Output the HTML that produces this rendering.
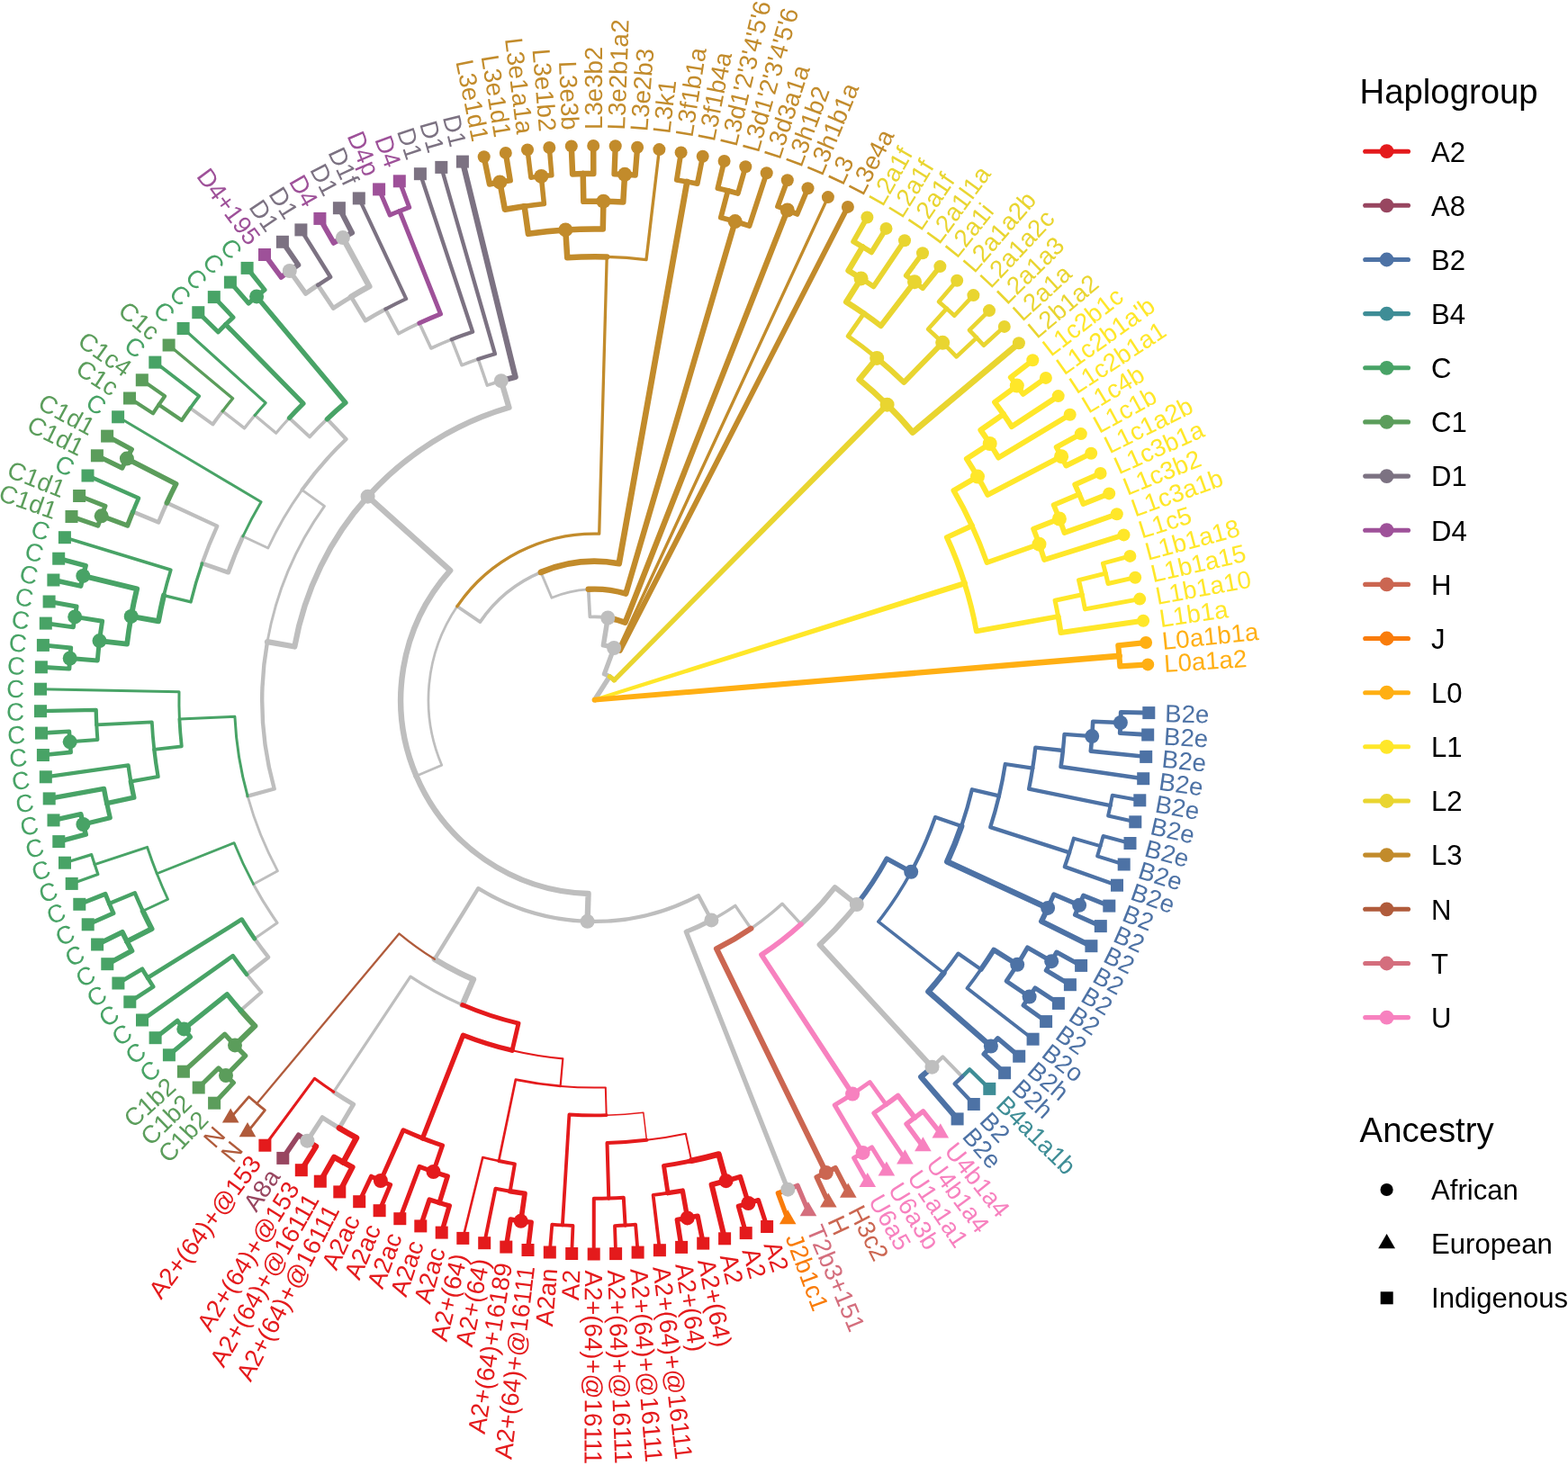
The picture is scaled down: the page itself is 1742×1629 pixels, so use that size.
<!DOCTYPE html>
<html lang="en"><head><meta charset="utf-8"><title>Haplogroup tree</title><style>html,body{margin:0;padding:0;background:#fff}body{width:1742px;height:1629px;overflow:hidden}svg{display:block}text{white-space:pre}</style></head><body>
<svg xmlns="http://www.w3.org/2000/svg" width="1742" height="1629" viewBox="0 0 1742 1629"><rect width="1742" height="1629" fill="#fff"/><g fill="none" stroke-linecap="round" stroke-linejoin="round">
<path d="M660.6 777.7L677.2 751.8" stroke="#BEBEBE" stroke-width="5.5"/>
<path d="M677.2 751.8A30.8 30.8 0 0 0 671.4 748.9L682.1 720" stroke="#BEBEBE" stroke-width="5.2"/>
<path d="M682.1 720A61.6 61.6 0 0 0 670.4 716.9L675.3 686.5" stroke="#BEBEBE" stroke-width="5.5"/>
<path d="M675.3 686.5A92.3 92.3 0 0 0 655.4 685.5L653.7 654.8" stroke="#BEBEBE" stroke-width="3.7"/>
<path d="M653.7 654.8A123.1 123.1 0 0 0 612.9 664.2L600.9 635.9" stroke="#BEBEBE" stroke-width="2.8"/>
<path d="M600.9 635.9A153.9 153.9 0 0 0 533.4 691.1L507.9 673.8" stroke="#BEBEBE" stroke-width="3.7"/>
<path d="M507.9 673.8A184.7 184.7 0 0 0 490.8 850.2L462.5 862.3" stroke="#BEBEBE" stroke-width="2.7"/>
<path d="M462.5 862.3A215.5 215.5 0 0 1 500.2 633.9L408.6 551.7" stroke="#BEBEBE" stroke-width="6.4"/>
<path d="M408.6 551.7A338.6 338.6 0 0 1 565.5 452.8L556.8 423.2" stroke="#BEBEBE" stroke-width="6.3"/>
<path d="M556.8 423.2A369.4 369.4 0 0 0 541.3 428.2L531.3 399" stroke="#BEBEBE" stroke-width="3.5"/>
<path d="M531.3 399A400.1 400.1 0 0 0 513 405.8L501.7 377.2" stroke="#BEBEBE" stroke-width="3.5"/>
<path d="M501.7 377.2A430.9 430.9 0 0 0 478.9 387L465.9 359.1" stroke="#BEBEBE" stroke-width="3.6"/>
<path d="M465.9 359.1A461.7 461.7 0 0 0 442.8 370.6L428.3 343.5" stroke="#BEBEBE" stroke-width="3.9"/>
<path d="M428.3 343.5A492.5 492.5 0 0 0 406 356.2L390.1 329.8" stroke="#BEBEBE" stroke-width="4.6"/>
<path d="M390.1 329.8A523.3 523.3 0 0 1 410.3 318.2L380.9 264.1" stroke="#BEBEBE" stroke-width="6.5"/>
<path d="M390.1 329.8A523.3 523.3 0 0 0 370.3 342.4L353.2 316.8" stroke="#BEBEBE" stroke-width="4.9"/>
<path d="M353.2 316.8A554 554 0 0 0 339.7 326.1L321.8 301" stroke="#BEBEBE" stroke-width="5.4"/>
<path d="M408.6 551.7A338.6 338.6 0 0 0 327.3 718.5L297 713.1" stroke="#BEBEBE" stroke-width="6.3"/>
<path d="M297 713.1A369.4 369.4 0 0 1 360.5 562.4L335.5 544.4" stroke="#BEBEBE" stroke-width="2.9"/>
<path d="M335.5 544.4A400.1 400.1 0 0 1 384.6 488L363.4 465.7" stroke="#BEBEBE" stroke-width="4.1"/>
<path d="M363.4 465.7A430.9 430.9 0 0 0 344 485.4L321.4 464.5" stroke="#BEBEBE" stroke-width="3.8"/>
<path d="M321.4 464.5A461.7 461.7 0 0 0 306.7 481.3L283.1 461.5" stroke="#BEBEBE" stroke-width="3.2"/>
<path d="M283.1 461.5A492.5 492.5 0 0 0 271.6 475.8L247.3 456.9" stroke="#BEBEBE" stroke-width="3.5"/>
<path d="M247.3 456.9A523.3 523.3 0 0 0 236.4 471.5L211.4 453.5" stroke="#BEBEBE" stroke-width="4"/>
<path d="M335.5 544.4A400.1 400.1 0 0 0 297.8 609L269.9 596" stroke="#BEBEBE" stroke-width="2.9"/>
<path d="M269.9 596A430.9 430.9 0 0 0 253.6 636.1L224.6 626" stroke="#BEBEBE" stroke-width="4.9"/>
<path d="M224.6 626A461.7 461.7 0 0 1 241.3 584.6L185.4 558.8" stroke="#BEBEBE" stroke-width="4.3"/>
<path d="M185.4 558.8A523.3 523.3 0 0 0 176.1 580.3L147.6 568.7" stroke="#BEBEBE" stroke-width="4.6"/>
<path d="M297 713.1A369.4 369.4 0 0 0 304.7 876.5L275.1 884.7" stroke="#BEBEBE" stroke-width="4.4"/>
<path d="M275.1 884.7A400.1 400.1 0 0 0 308.5 967.8L281.5 982.4" stroke="#BEBEBE" stroke-width="2.8"/>
<path d="M281.5 982.4A430.9 430.9 0 0 0 308 1025.4L282.8 1043.1" stroke="#BEBEBE" stroke-width="3.1"/>
<path d="M282.8 1043.1A461.7 461.7 0 0 0 298.2 1063.7L274.1 1082.8" stroke="#BEBEBE" stroke-width="4.3"/>
<path d="M274.1 1082.8A492.5 492.5 0 0 0 290.5 1102.5L267.4 1122.8" stroke="#BEBEBE" stroke-width="3.8"/>
<path d="M462.5 862.3A215.5 215.5 0 0 0 653.6 993L652.6 1023.8" stroke="#BEBEBE" stroke-width="6.3"/>
<path d="M652.6 1023.8A246.2 246.2 0 0 1 531.3 987.2L482.8 1065.8" stroke="#BEBEBE" stroke-width="4.3"/>
<path d="M482.8 1065.8A338.6 338.6 0 0 0 525.9 1088.3L513.7 1116.6" stroke="#BEBEBE" stroke-width="6.5"/>
<path d="M513.7 1116.6A369.4 369.4 0 0 1 456 1085.1L370.7 1213.3" stroke="#BEBEBE" stroke-width="3.2"/>
<path d="M370.7 1213.3A523.3 523.3 0 0 0 392.6 1227.1L376.9 1253.5" stroke="#BEBEBE" stroke-width="5"/>
<path d="M376.9 1253.5A554 554 0 0 1 358.2 1241.9L341.4 1267.7" stroke="#BEBEBE" stroke-width="5.3"/>
<path d="M652.6 1023.8A246.2 246.2 0 0 0 776 995.2L790.4 1022.4" stroke="#BEBEBE" stroke-width="4.3"/>
<path d="M790.4 1022.4A277 277 0 0 1 762.3 1035.4L875.3 1321.7" stroke="#BEBEBE" stroke-width="5.3"/>
<path d="M790.4 1022.4A277 277 0 0 0 816.9 1006.4L834.3 1031.8" stroke="#BEBEBE" stroke-width="3.4"/>
<path d="M834.3 1031.8A307.8 307.8 0 0 0 869 1004.2L889.9 1026.9" stroke="#BEBEBE" stroke-width="3.4"/>
<path d="M889.9 1026.9A338.6 338.6 0 0 0 927.6 986L951.8 1005" stroke="#BEBEBE" stroke-width="5.9"/>
<path d="M951.8 1005A369.4 369.4 0 0 1 910.6 1049.7L1035.5 1185.7" stroke="#BEBEBE" stroke-width="6"/>
<path d="M1035.5 1185.7A554 554 0 0 0 1047.5 1174.3L1069 1196.4" stroke="#BEBEBE" stroke-width="4"/>
<path d="M1244.9 803A584.8 584.8 0 0 0 1245.3 791.4L1276.3 792.1" stroke="#4D72A5" stroke-width="4.9"/>
<path d="M1244.9 803A584.8 584.8 0 0 1 1244.3 814.6L1275.2 816.5" stroke="#4D72A5" stroke-width="4.9"/>
<path d="M1213.2 818.1A554 554 0 0 0 1214.2 801.7L1244.9 803" stroke="#4D72A5" stroke-width="4.6"/>
<path d="M1213.2 818.1A554 554 0 0 1 1211.8 834.6L1273.2 840.9" stroke="#4D72A5" stroke-width="4.6"/>
<path d="M1180.9 834A523.3 523.3 0 0 0 1182.5 815.9L1213.2 818.1" stroke="#4D72A5" stroke-width="4.3"/>
<path d="M1180.9 834A523.3 523.3 0 0 1 1178.6 852L1270.2 865.2" stroke="#4D72A5" stroke-width="4.6"/>
<path d="M1147.2 853.7A492.5 492.5 0 0 0 1150.3 830.7L1180.9 834" stroke="#4D72A5" stroke-width="4.3"/>
<path d="M1233.6 895.1A584.8 584.8 0 0 0 1235.8 883.7L1266.3 889.3" stroke="#4D72A5" stroke-width="4"/>
<path d="M1233.6 895.1A584.8 584.8 0 0 1 1231.1 906.5L1261.3 913.3" stroke="#4D72A5" stroke-width="4"/>
<path d="M1147.2 853.7A492.5 492.5 0 0 1 1143.1 876.6L1233.6 895.1" stroke="#4D72A5" stroke-width="4.3"/>
<path d="M1109.9 884.4A461.7 461.7 0 0 0 1116.8 849L1147.2 853.7" stroke="#4D72A5" stroke-width="4.3"/>
<path d="M1222.4 940.2A584.8 584.8 0 0 0 1225.6 929L1255.5 937" stroke="#4D72A5" stroke-width="4"/>
<path d="M1222.4 940.2A584.8 584.8 0 0 1 1219.1 951.3L1248.7 960.5" stroke="#4D72A5" stroke-width="4"/>
<path d="M1188.1 947.4A554 554 0 0 0 1192.9 931.6L1222.4 940.2" stroke="#4D72A5" stroke-width="4"/>
<path d="M1188.1 947.4A554 554 0 0 1 1182.8 963.1L1241 983.7" stroke="#4D72A5" stroke-width="4.3"/>
<path d="M1109.9 884.4A461.7 461.7 0 0 1 1100.2 919.1L1188.1 947.4" stroke="#4D72A5" stroke-width="4.3"/>
<path d="M1068.1 918.1A430.9 430.9 0 0 0 1079.9 877.3L1109.9 884.4" stroke="#4D72A5" stroke-width="4.3"/>
<path d="M1199.1 1005.8A584.8 584.8 0 0 0 1203.6 995.1L1232.3 1006.6" stroke="#4D72A5" stroke-width="5.1"/>
<path d="M1199.1 1005.8A584.8 584.8 0 0 1 1194.5 1016.5L1222.8 1029.1" stroke="#4D72A5" stroke-width="5.1"/>
<path d="M1164.1 1008.9A554 554 0 0 0 1170.8 993.8L1199.1 1005.8" stroke="#4D72A5" stroke-width="5.1"/>
<path d="M1164.1 1008.9A554 554 0 0 1 1157 1023.8L1212.4 1051.2" stroke="#4D72A5" stroke-width="6"/>
<path d="M1068.1 918.1A430.9 430.9 0 0 1 1052.3 957.5L1164.1 1008.9" stroke="#4D72A5" stroke-width="6.6"/>
<path d="M1012.2 968.8A400.1 400.1 0 0 0 1039 908.1L1068.1 918.1" stroke="#4D72A5" stroke-width="4.2"/>
<path d="M1168.2 1068.2A584.8 584.8 0 0 0 1173.9 1058.1L1201.1 1072.9" stroke="#4D72A5" stroke-width="5.1"/>
<path d="M1168.2 1068.2A584.8 584.8 0 0 1 1162.3 1078.2L1188.9 1094.2" stroke="#4D72A5" stroke-width="5.1"/>
<path d="M1130.2 1071.8A554 554 0 0 0 1141.5 1052.9L1168.2 1068.2" stroke="#4D72A5" stroke-width="5.1"/>
<path d="M1143.6 1107.6A584.8 584.8 0 0 0 1150 1097.9L1175.9 1114.9" stroke="#4D72A5" stroke-width="4.9"/>
<path d="M1143.6 1107.6A584.8 584.8 0 0 1 1136.9 1117.1L1162.1 1135.1" stroke="#4D72A5" stroke-width="4.9"/>
<path d="M1130.2 1071.8A554 554 0 0 1 1118.1 1090.2L1143.6 1107.6" stroke="#4D72A5" stroke-width="4.9"/>
<path d="M1089.8 1077.1A523.3 523.3 0 0 0 1104.1 1055.5L1130.2 1071.8" stroke="#4D72A5" stroke-width="5.7"/>
<path d="M1089.8 1077.1A523.3 523.3 0 0 1 1074.4 1098.1L1147.6 1154.7" stroke="#4D72A5" stroke-width="3.8"/>
<path d="M1048.5 1081.1A492.5 492.5 0 0 0 1064.5 1059.5L1089.8 1077.1" stroke="#4D72A5" stroke-width="4"/>
<path d="M1100.9 1162.6A584.8 584.8 0 0 0 1108.5 1153.8L1132.2 1173.7" stroke="#4D72A5" stroke-width="5.4"/>
<path d="M1100.9 1162.6A584.8 584.8 0 0 1 1093.2 1171.3L1116.1 1192.2" stroke="#4D72A5" stroke-width="5.4"/>
<path d="M1048.5 1081.1A492.5 492.5 0 0 1 1031.4 1101.9L1100.9 1162.6" stroke="#4D72A5" stroke-width="6.4"/>
<path d="M1012.2 968.8A400.1 400.1 0 0 1 975.8 1024.2L1048.5 1081.1" stroke="#4D72A5" stroke-width="3.5"/>
<path d="M951.8 1005A369.4 369.4 0 0 0 985.2 954.1L1012.2 968.8" stroke="#4D72A5" stroke-width="5.4"/>
<path d="M1069 1196.4A584.8 584.8 0 0 0 1077.2 1188.2L1099.3 1209.9" stroke="#3E8D96" stroke-width="4.3"/>
<path d="M1069 1196.4A584.8 584.8 0 0 1 1060.6 1204.4L1081.8 1227" stroke="#4D72A5" stroke-width="4.3"/>
<path d="M1035.5 1185.7A554 554 0 0 1 1023.2 1196.7L1063.6 1243.4" stroke="#4D72A5" stroke-width="6.2"/>
<path d="M1016.3 1241.9A584.8 584.8 0 0 0 1025.5 1234.8L1044.8 1259" stroke="#F781BF" stroke-width="5.4"/>
<path d="M1016.3 1241.9A584.8 584.8 0 0 1 1007 1248.9L1025.4 1273.9" stroke="#F781BF" stroke-width="5.4"/>
<path d="M984.4 1227.3A554 554 0 0 0 997.6 1217.5L1016.3 1241.9" stroke="#F781BF" stroke-width="5.7"/>
<path d="M984.4 1227.3A554 554 0 0 1 970.8 1236.8L1005.4 1288" stroke="#F781BF" stroke-width="4.9"/>
<path d="M947.1 1215.6A523.3 523.3 0 0 0 966.4 1202.4L984.4 1227.3" stroke="#F781BF" stroke-width="4.6"/>
<path d="M958.6 1280.9A584.8 584.8 0 0 0 968.6 1274.9L984.9 1301.2" stroke="#F781BF" stroke-width="4.9"/>
<path d="M958.6 1280.9A584.8 584.8 0 0 1 948.6 1286.7L963.8 1313.7" stroke="#F781BF" stroke-width="4.9"/>
<path d="M947.1 1215.6A523.3 523.3 0 0 1 927.3 1227.9L958.6 1280.9" stroke="#F781BF" stroke-width="5.1"/>
<path d="M889.9 1026.9A338.6 338.6 0 0 1 846 1061L947.1 1215.6" stroke="#F781BF" stroke-width="5.7"/>
<path d="M917.8 1303A584.8 584.8 0 0 0 928.1 1297.8L942.3 1325.3" stroke="#CB6651" stroke-width="5.7"/>
<path d="M917.8 1303A584.8 584.8 0 0 1 907.3 1308L920.3 1336.1" stroke="#CB6651" stroke-width="5.7"/>
<path d="M834.3 1031.8A307.8 307.8 0 0 1 796 1054.2L917.8 1303" stroke="#CB6651" stroke-width="6.2"/>
<path d="M875.3 1321.7A584.8 584.8 0 0 0 886 1317.4L898 1345.9" stroke="#D46E7D" stroke-width="5.4"/>
<path d="M875.3 1321.7A584.8 584.8 0 0 1 864.4 1325.9L875.2 1354.9" stroke="#F97C0A" stroke-width="5.4"/>
<path d="M831.4 1337A584.8 584.8 0 0 0 842.5 1333.5L852.1 1363" stroke="#E41A1C" stroke-width="5.1"/>
<path d="M831.4 1337A584.8 584.8 0 0 1 820.3 1340.3L828.7 1370.1" stroke="#E41A1C" stroke-width="5.1"/>
<path d="M806.6 1312.2A554 554 0 0 0 822.4 1307.6L831.4 1337" stroke="#E41A1C" stroke-width="5.4"/>
<path d="M806.6 1312.2A554 554 0 0 1 790.6 1316.3L805.1 1376.3" stroke="#E41A1C" stroke-width="6"/>
<path d="M768.2 1289.8A523.3 523.3 0 0 0 798.5 1282.5L806.6 1312.2" stroke="#E41A1C" stroke-width="6.5"/>
<path d="M763.7 1353.4A584.8 584.8 0 0 0 775.1 1351.2L781.2 1381.6" stroke="#E41A1C" stroke-width="5.4"/>
<path d="M763.7 1353.4A584.8 584.8 0 0 1 752.3 1355.3L757.1 1385.9" stroke="#E41A1C" stroke-width="5.4"/>
<path d="M742 1325.7A554 554 0 0 0 758.3 1323.1L763.7 1353.4" stroke="#E41A1C" stroke-width="5.4"/>
<path d="M742 1325.7A554 554 0 0 1 725.6 1327.9L732.9 1389.2" stroke="#E41A1C" stroke-width="3.8"/>
<path d="M768.2 1289.8A523.3 523.3 0 0 1 737.5 1295.3L742 1325.7" stroke="#E41A1C" stroke-width="4.9"/>
<path d="M718.4 1266.8A492.5 492.5 0 0 0 761.8 1259.7L768.2 1289.8" stroke="#E41A1C" stroke-width="2"/>
<path d="M694.6 1361.5A584.8 584.8 0 0 0 706.1 1360.7L708.6 1391.6" stroke="#E41A1C" stroke-width="3.8"/>
<path d="M694.6 1361.5A584.8 584.8 0 0 1 683 1362.1L684.1 1393.1" stroke="#E41A1C" stroke-width="3.8"/>
<path d="M676.3 1331.5A554 554 0 0 0 692.8 1330.8L694.6 1361.5" stroke="#E41A1C" stroke-width="4"/>
<path d="M676.3 1331.5A554 554 0 0 1 659.8 1331.7L659.7 1393.5" stroke="#E41A1C" stroke-width="4"/>
<path d="M718.4 1266.8A492.5 492.5 0 0 1 674.5 1270L676.3 1331.5" stroke="#E41A1C" stroke-width="4"/>
<path d="M673.7 1239.2A461.7 461.7 0 0 0 714.8 1236.2L718.4 1266.8" stroke="#E41A1C" stroke-width="1.5"/>
<path d="M624.9 1361.4A584.8 584.8 0 0 0 636.5 1362L635.2 1393" stroke="#E41A1C" stroke-width="3.8"/>
<path d="M624.9 1361.4A584.8 584.8 0 0 1 613.3 1360.6L610.8 1391.5" stroke="#E41A1C" stroke-width="3.8"/>
<path d="M673.7 1239.2A461.7 461.7 0 0 1 632.4 1238.5L624.9 1361.4" stroke="#E41A1C" stroke-width="3.8"/>
<path d="M622.6 1206.9A430.9 430.9 0 0 0 672.8 1208.4L673.7 1239.2" stroke="#E41A1C" stroke-width="2"/>
<path d="M578.7 1356.8A584.8 584.8 0 0 0 590.2 1358.3L586.5 1389" stroke="#E41A1C" stroke-width="5.4"/>
<path d="M578.7 1356.8A584.8 584.8 0 0 1 567.2 1355L562.3 1385.6" stroke="#E41A1C" stroke-width="5.4"/>
<path d="M566.7 1323.7A554 554 0 0 0 583 1326.3L578.7 1356.8" stroke="#E41A1C" stroke-width="5.6"/>
<path d="M566.7 1323.7A554 554 0 0 1 550.5 1320.7L538.2 1381.2" stroke="#E41A1C" stroke-width="4"/>
<path d="M554.1 1290A523.3 523.3 0 0 0 571.9 1293.4L566.7 1323.7" stroke="#E41A1C" stroke-width="4"/>
<path d="M554.1 1290A523.3 523.3 0 0 1 536.3 1286L514.3 1375.9" stroke="#E41A1C" stroke-width="2.6"/>
<path d="M622.6 1206.9A430.9 430.9 0 0 1 572.9 1199.6L554.1 1290" stroke="#E41A1C" stroke-width="2.7"/>
<path d="M569 1167.2A400.1 400.1 0 0 0 625.3 1176.3L622.6 1206.9" stroke="#E41A1C" stroke-width="2.2"/>
<path d="M488.1 1336.5A584.8 584.8 0 0 0 499.3 1339.8L490.7 1369.6" stroke="#E41A1C" stroke-width="5.4"/>
<path d="M488.1 1336.5A584.8 584.8 0 0 1 477.1 1333L467.3 1362.4" stroke="#E41A1C" stroke-width="5.4"/>
<path d="M481.5 1302A554 554 0 0 0 497.2 1307.1L488.1 1336.5" stroke="#E41A1C" stroke-width="5.4"/>
<path d="M481.5 1302A554 554 0 0 1 466 1296.4L444.3 1354.2" stroke="#E41A1C" stroke-width="5"/>
<path d="M469.5 1264.8A523.3 523.3 0 0 0 491.5 1272.9L481.5 1302" stroke="#E41A1C" stroke-width="5"/>
<path d="M422.9 1312A584.8 584.8 0 0 0 433.6 1316.6L421.6 1345.2" stroke="#E41A1C" stroke-width="5"/>
<path d="M422.9 1312A584.8 584.8 0 0 1 412.4 1307.2L399.2 1335.2" stroke="#E41A1C" stroke-width="5"/>
<path d="M469.5 1264.8A523.3 523.3 0 0 1 448 1255.8L422.9 1312" stroke="#E41A1C" stroke-width="5"/>
<path d="M569 1167.2A400.1 400.1 0 0 1 514.5 1150.2L469.5 1264.8" stroke="#E41A1C" stroke-width="5.4"/>
<path d="M513.7 1116.6A369.4 369.4 0 0 0 576 1137.2L569 1167.2" stroke="#E41A1C" stroke-width="4.9"/>
<path d="M381.3 1291.5A584.8 584.8 0 0 0 391.5 1296.9L377.3 1324.4" stroke="#E41A1C" stroke-width="6.2"/>
<path d="M381.3 1291.5A584.8 584.8 0 0 1 371.1 1285.8L355.8 1312.7" stroke="#E41A1C" stroke-width="6.2"/>
<path d="M376.9 1253.5A554 554 0 0 0 396 1264.4L381.3 1291.5" stroke="#E41A1C" stroke-width="6.5"/>
<path d="M341.4 1267.7A584.8 584.8 0 0 0 351.2 1273.9L334.8 1300.2" stroke="#E41A1C" stroke-width="6"/>
<path d="M341.4 1267.7A584.8 584.8 0 0 1 331.7 1261.3L314.3 1286.9" stroke="#984660" stroke-width="5.7"/>
<path d="M370.7 1213.3A523.3 523.3 0 0 1 349.4 1198.3L294.4 1272.7" stroke="#E41A1C" stroke-width="3.1"/>
<path d="M285.4 1226.3A584.8 584.8 0 0 0 294.4 1233.6L275 1257.8" stroke="#B05B3B" stroke-width="2.8"/>
<path d="M285.4 1226.3A584.8 584.8 0 0 1 276.6 1218.7L256.2 1242.1" stroke="#B05B3B" stroke-width="2.8"/>
<path d="M482.8 1065.8A338.6 338.6 0 0 1 443.4 1037.4L285.4 1226.3" stroke="#B05B3B" stroke-width="2.3"/>
<path d="M251 1195.1A584.8 584.8 0 0 0 259.4 1203.1L238.1 1225.7" stroke="#5B9D5B" stroke-width="5.1"/>
<path d="M251 1195.1A584.8 584.8 0 0 1 242.8 1186.9L220.7 1208.5" stroke="#5B9D5B" stroke-width="5.1"/>
<path d="M261 1161.4A554 554 0 0 0 272.6 1173.1L251 1195.1" stroke="#5B9D5B" stroke-width="5.4"/>
<path d="M261 1161.4A554 554 0 0 1 249.7 1149.3L203.9 1190.7" stroke="#5B9D5B" stroke-width="5.4"/>
<path d="M267.4 1122.8A523.3 523.3 0 0 0 283.2 1140.1L261 1161.4" stroke="#5B9D5B" stroke-width="6.2"/>
<path d="M204.3 1143.4A584.8 584.8 0 0 0 211.6 1152.4L187.9 1172.3" stroke="#48A366" stroke-width="5.1"/>
<path d="M204.3 1143.4A584.8 584.8 0 0 1 197.1 1134.3L172.6 1153.2" stroke="#48A366" stroke-width="5.1"/>
<path d="M267.4 1122.8A523.3 523.3 0 0 1 252.3 1104.9L204.3 1143.4" stroke="#48A366" stroke-width="5.4"/>
<path d="M274.1 1082.8A492.5 492.5 0 0 1 258.7 1062.2L158 1133.5" stroke="#48A366" stroke-width="4.6"/>
<path d="M164.1 1086.6A584.8 584.8 0 0 0 170.3 1096.4L144.3 1113.3" stroke="#48A366" stroke-width="4.6"/>
<path d="M164.1 1086.6A584.8 584.8 0 0 1 158 1076.7L131.4 1092.5" stroke="#48A366" stroke-width="4.6"/>
<path d="M282.8 1043.1A461.7 461.7 0 0 1 268.6 1021.6L164.1 1086.6" stroke="#48A366" stroke-width="4.7"/>
<path d="M141.1 1046.2A584.8 584.8 0 0 0 146.5 1056.5L119.3 1071.2" stroke="#48A366" stroke-width="5.7"/>
<path d="M141.1 1046.2A584.8 584.8 0 0 1 135.9 1035.8L108.1 1049.5" stroke="#48A366" stroke-width="5.7"/>
<path d="M158.7 1012.3A554 554 0 0 0 168.5 1032.1L141.1 1046.2" stroke="#48A366" stroke-width="6"/>
<path d="M121.4 1004.1A584.8 584.8 0 0 0 126 1014.8L97.7 1027.3" stroke="#48A366" stroke-width="4.9"/>
<path d="M121.4 1004.1A584.8 584.8 0 0 1 117.1 993.4L88.3 1004.8" stroke="#48A366" stroke-width="4.9"/>
<path d="M158.7 1012.3A554 554 0 0 1 149.8 992.2L121.4 1004.1" stroke="#48A366" stroke-width="4.3"/>
<path d="M174.3 970.7A523.3 523.3 0 0 0 186.6 999.3L158.7 1012.3" stroke="#48A366" stroke-width="2.8"/>
<path d="M105.2 960.6A584.8 584.8 0 0 0 108.9 971.6L79.7 981.9" stroke="#48A366" stroke-width="3.2"/>
<path d="M105.2 960.6A584.8 584.8 0 0 1 101.7 949.6L72 958.7" stroke="#48A366" stroke-width="3.2"/>
<path d="M174.3 970.7A523.3 523.3 0 0 1 163.6 941.4L105.2 960.6" stroke="#48A366" stroke-width="3"/>
<path d="M281.5 982.4A430.9 430.9 0 0 1 260.1 936.6L174.3 970.7" stroke="#48A366" stroke-width="2.8"/>
<path d="M92.4 916A584.8 584.8 0 0 0 95.3 927.2L65.3 935.1" stroke="#48A366" stroke-width="5.4"/>
<path d="M92.4 916A584.8 584.8 0 0 1 89.8 904.7L59.5 911.4" stroke="#48A366" stroke-width="5.4"/>
<path d="M118.7 892.6A554 554 0 0 0 122.3 908.7L92.4 916" stroke="#48A366" stroke-width="5.1"/>
<path d="M118.7 892.6A554 554 0 0 1 115.5 876.4L54.7 887.4" stroke="#48A366" stroke-width="5.4"/>
<path d="M145.3 868.4A523.3 523.3 0 0 0 148.8 886.2L118.7 892.6" stroke="#48A366" stroke-width="5.4"/>
<path d="M145.3 868.4A523.3 523.3 0 0 1 142.5 850.4L50.8 863.3" stroke="#48A366" stroke-width="4.3"/>
<path d="M171.3 832.8A492.5 492.5 0 0 0 175.6 863L145.3 868.4" stroke="#48A366" stroke-width="4.3"/>
<path d="M77.7 824.3A584.8 584.8 0 0 0 78.7 835.9L47.9 839" stroke="#48A366" stroke-width="4.6"/>
<path d="M77.7 824.3A584.8 584.8 0 0 1 76.9 812.7L46 814.6" stroke="#48A366" stroke-width="4.6"/>
<path d="M107.3 805.4A554 554 0 0 0 108.4 821.9L77.7 824.3" stroke="#48A366" stroke-width="4"/>
<path d="M107.3 805.4A554 554 0 0 1 106.7 788.9L45 790.2" stroke="#48A366" stroke-width="4.3"/>
<path d="M171.3 832.8A492.5 492.5 0 0 1 168.8 802.3L107.3 805.4" stroke="#48A366" stroke-width="3.8"/>
<path d="M199.4 799.1A461.7 461.7 0 0 0 201.8 829.3L171.3 832.8" stroke="#48A366" stroke-width="3.8"/>
<path d="M199.4 799.1A461.7 461.7 0 0 1 199 768.7L45 765.7" stroke="#48A366" stroke-width="3"/>
<path d="M275.1 884.7A400.1 400.1 0 0 1 260.9 796.2L199.4 799.1" stroke="#48A366" stroke-width="3"/>
<path d="M77.7 731.5A584.8 584.8 0 0 0 76.9 743.1L45.9 741.3" stroke="#48A366" stroke-width="4.9"/>
<path d="M77.7 731.5A584.8 584.8 0 0 1 78.7 720L47.9 716.9" stroke="#48A366" stroke-width="4.9"/>
<path d="M110.5 712.1A554 554 0 0 0 108.3 733.9L77.7 731.5" stroke="#48A366" stroke-width="5"/>
<path d="M83.2 685.4A584.8 584.8 0 0 0 81.4 696.9L50.8 692.6" stroke="#48A366" stroke-width="4.9"/>
<path d="M83.2 685.4A584.8 584.8 0 0 1 85.1 674L54.6 668.5" stroke="#48A366" stroke-width="4.9"/>
<path d="M110.5 712.1A554 554 0 0 1 113.6 690.3L83.2 685.4" stroke="#48A366" stroke-width="5"/>
<path d="M145.7 684.9A523.3 523.3 0 0 0 141.1 715.7L110.5 712.1" stroke="#48A366" stroke-width="5.7"/>
<path d="M92.3 639.9A584.8 584.8 0 0 0 89.7 651.2L59.4 644.5" stroke="#48A366" stroke-width="5.4"/>
<path d="M92.3 639.9A584.8 584.8 0 0 1 95.2 628.6L65.2 620.7" stroke="#48A366" stroke-width="5.4"/>
<path d="M145.7 684.9A523.3 523.3 0 0 1 152.1 654.4L92.3 639.9" stroke="#48A366" stroke-width="6"/>
<path d="M182 661.6A492.5 492.5 0 0 0 176 690.3L145.7 684.9" stroke="#48A366" stroke-width="6"/>
<path d="M182 661.6A492.5 492.5 0 0 1 189.8 633.3L71.9 597.2" stroke="#48A366" stroke-width="3.8"/>
<path d="M224.6 626A461.7 461.7 0 0 0 212 668.9L182 661.6" stroke="#48A366" stroke-width="3.5"/>
<path d="M112.7 573.3A584.8 584.8 0 0 0 108.8 584.2L79.5 574" stroke="#5B9D5B" stroke-width="5.1"/>
<path d="M112.7 573.3A584.8 584.8 0 0 1 116.9 562.4L88.1 551" stroke="#5B9D5B" stroke-width="5.1"/>
<path d="M147.6 568.7A554 554 0 0 0 141.6 584L112.7 573.3" stroke="#5B9D5B" stroke-width="5.4"/>
<path d="M147.6 568.7A554 554 0 0 1 154 553.5L97.5 528.5" stroke="#48A366" stroke-width="4.6"/>
<path d="M140.9 509.6A584.8 584.8 0 0 0 135.7 520L107.9 506.3" stroke="#5B9D5B" stroke-width="5.3"/>
<path d="M140.9 509.6A584.8 584.8 0 0 1 146.3 499.3L119.1 484.6" stroke="#5B9D5B" stroke-width="5.3"/>
<path d="M185.4 558.8A523.3 523.3 0 0 1 195.6 537.8L140.9 509.6" stroke="#5B9D5B" stroke-width="5.7"/>
<path d="M269.9 596A430.9 430.9 0 0 1 290.1 557.7L131.1 463.3" stroke="#48A366" stroke-width="2.9"/>
<path d="M176.5 449.7A584.8 584.8 0 0 0 170 459.4L144 442.5" stroke="#5B9D5B" stroke-width="4.1"/>
<path d="M176.5 449.7A584.8 584.8 0 0 1 183.1 440.2L157.8 422.3" stroke="#5B9D5B" stroke-width="4.1"/>
<path d="M211.4 453.5A554 554 0 0 0 201.9 467L176.5 449.7" stroke="#5B9D5B" stroke-width="4.1"/>
<path d="M211.4 453.5A554 554 0 0 1 221.3 440.2L172.3 402.6" stroke="#48A366" stroke-width="3.8"/>
<path d="M247.3 456.9A523.3 523.3 0 0 1 258.6 442.7L187.6 383.5" stroke="#5B9D5B" stroke-width="3.3"/>
<path d="M283.1 461.5A492.5 492.5 0 0 1 295.1 447.7L203.6 365" stroke="#48A366" stroke-width="3.1"/>
<path d="M250.7 360.6A584.8 584.8 0 0 0 242.5 368.9L220.3 347.2" stroke="#48A366" stroke-width="4.9"/>
<path d="M250.7 360.6A584.8 584.8 0 0 1 259 352.6L237.8 330.1" stroke="#48A366" stroke-width="4.9"/>
<path d="M321.4 464.5A461.7 461.7 0 0 1 337 448.4L250.7 360.6" stroke="#48A366" stroke-width="5.1"/>
<path d="M285.1 329.4A584.8 584.8 0 0 0 276.2 337L255.9 313.6" stroke="#48A366" stroke-width="5.1"/>
<path d="M285.1 329.4A584.8 584.8 0 0 1 294 322.1L274.6 297.9" stroke="#48A366" stroke-width="5.1"/>
<path d="M363.4 465.7A430.9 430.9 0 0 1 383.9 447.4L285.1 329.4" stroke="#48A366" stroke-width="5.4"/>
<path d="M321.8 301A584.8 584.8 0 0 0 312.4 307.9L294 283" stroke="#9E5199" stroke-width="5.8"/>
<path d="M321.8 301A584.8 584.8 0 0 1 331.4 294.4L313.9 268.8" stroke="#7C7282" stroke-width="5.8"/>
<path d="M353.2 316.8A554 554 0 0 1 367.1 307.8L334.4 255.4" stroke="#7C7282" stroke-width="4.5"/>
<path d="M380.9 264.1A584.8 584.8 0 0 0 370.7 269.8L355.4 242.9" stroke="#9E5199" stroke-width="5.9"/>
<path d="M380.9 264.1A584.8 584.8 0 0 1 391.1 258.7L376.9 231.2" stroke="#7C7282" stroke-width="5.9"/>
<path d="M428.3 343.5A492.5 492.5 0 0 1 451.2 332L398.8 220.4" stroke="#7C7282" stroke-width="4.1"/>
<path d="M443.9 234.5A584.8 584.8 0 0 0 433.2 238.9L421.1 210.4" stroke="#9E5199" stroke-width="5"/>
<path d="M443.9 234.5A584.8 584.8 0 0 1 454.7 230.3L443.8 201.3" stroke="#9E5199" stroke-width="5"/>
<path d="M465.9 359.1A461.7 461.7 0 0 1 489.5 348.9L443.9 234.5" stroke="#9E5199" stroke-width="5"/>
<path d="M501.7 377.2A430.9 430.9 0 0 1 525.1 368.7L466.9 193.2" stroke="#7C7282" stroke-width="4.3"/>
<path d="M531.3 399A400.1 400.1 0 0 1 549.9 393.2L490.3 185.9" stroke="#7C7282" stroke-width="4.3"/>
<path d="M556.8 423.2A369.4 369.4 0 0 1 572.6 419L513.9 179.6" stroke="#7C7282" stroke-width="6.4"/>
<path d="M555.3 202.4A584.8 584.8 0 0 0 543.9 204.6L537.7 174.3" stroke="#C28B2B" stroke-width="6.3"/>
<path d="M555.3 202.4A584.8 584.8 0 0 1 566.8 200.5L561.8 169.9" stroke="#C28B2B" stroke-width="6.3"/>
<path d="M582.6 229.2A554 554 0 0 0 560.9 232.7L555.3 202.4" stroke="#C28B2B" stroke-width="6.5"/>
<path d="M601.3 195.9A584.8 584.8 0 0 0 589.8 197.2L586 166.4" stroke="#C28B2B" stroke-width="5.4"/>
<path d="M601.3 195.9A584.8 584.8 0 0 1 612.9 194.8L610.3 164" stroke="#C28B2B" stroke-width="5.4"/>
<path d="M582.6 229.2A554 554 0 0 1 604.4 226.5L601.3 195.9" stroke="#C28B2B" stroke-width="5.5"/>
<path d="M628.3 255.4A523.3 523.3 0 0 0 586.9 259.7L582.6 229.2" stroke="#C28B2B" stroke-width="6.5"/>
<path d="M647.7 193A584.8 584.8 0 0 0 636.1 193.4L634.8 162.4" stroke="#C28B2B" stroke-width="6.5"/>
<path d="M647.7 193A584.8 584.8 0 0 1 659.3 192.9L659.2 161.9" stroke="#C28B2B" stroke-width="6.5"/>
<path d="M670.4 223.7A554 554 0 0 0 648.3 223.8L647.7 193" stroke="#C28B2B" stroke-width="6.5"/>
<path d="M694.1 193.8A584.8 584.8 0 0 0 682.5 193.3L683.7 162.3" stroke="#C28B2B" stroke-width="6.3"/>
<path d="M694.1 193.8A584.8 584.8 0 0 1 705.7 194.6L708.1 163.7" stroke="#C28B2B" stroke-width="6.3"/>
<path d="M670.4 223.7A554 554 0 0 1 692.3 224.6L694.1 193.8" stroke="#C28B2B" stroke-width="6.5"/>
<path d="M628.3 255.4A523.3 523.3 0 0 1 669.8 254.5L670.4 223.7" stroke="#C28B2B" stroke-width="6.5"/>
<path d="M674.2 285.4A492.5 492.5 0 0 0 630.2 286.2L628.3 255.4" stroke="#C28B2B" stroke-width="6.5"/>
<path d="M674.2 285.4A492.5 492.5 0 0 1 718 288.6L732.4 166.1" stroke="#C28B2B" stroke-width="3.4"/>
<path d="M507.9 673.8A184.7 184.7 0 0 1 665.7 593.1L674.2 285.4" stroke="#C28B2B" stroke-width="3.3"/>
<path d="M763.3 202A584.8 584.8 0 0 0 751.8 200L756.6 169.4" stroke="#C28B2B" stroke-width="5.8"/>
<path d="M763.3 202A584.8 584.8 0 0 1 774.7 204.1L780.7 173.7" stroke="#C28B2B" stroke-width="5.8"/>
<path d="M600.9 635.9A153.9 153.9 0 0 1 687.7 626.2L763.3 202" stroke="#C28B2B" stroke-width="6.7"/>
<path d="M808.6 211.9A584.8 584.8 0 0 0 797.4 209.1L804.6 179" stroke="#C28B2B" stroke-width="5.8"/>
<path d="M808.6 211.9A584.8 584.8 0 0 1 819.8 215L828.3 185.2" stroke="#C28B2B" stroke-width="5.8"/>
<path d="M816.7 246.1A554 554 0 0 0 800.8 241.7L808.6 211.9" stroke="#C28B2B" stroke-width="5.8"/>
<path d="M816.7 246.1A554 554 0 0 1 832.5 251L851.7 192.3" stroke="#C28B2B" stroke-width="5.8"/>
<path d="M653.7 654.8A123.1 123.1 0 0 1 695.3 659.6L816.7 246.1" stroke="#C28B2B" stroke-width="6.4"/>
<path d="M874.8 233.5A584.8 584.8 0 0 0 864 229.4L874.8 200.3" stroke="#C28B2B" stroke-width="5.8"/>
<path d="M874.8 233.5A584.8 584.8 0 0 1 885.6 237.9L897.5 209.3" stroke="#C28B2B" stroke-width="5.8"/>
<path d="M675.3 686.5A92.3 92.3 0 0 1 694.5 691.8L874.8 233.5" stroke="#C28B2B" stroke-width="6.4"/>
<path d="M682.1 720A61.6 61.6 0 0 1 686.6 721.9L919.9 219.1" stroke="#C28B2B" stroke-width="3.4"/>
<path d="M682.1 720A61.6 61.6 0 0 1 688.8 722.9L941.9 229.9" stroke="#C28B2B" stroke-width="5.9"/>
<path d="M958.2 274.3A584.8 584.8 0 0 0 948.2 268.4L963.4 241.5" stroke="#E9D530" stroke-width="5.9"/>
<path d="M958.2 274.3A584.8 584.8 0 0 1 968.2 280.3L984.5 253.9" stroke="#E9D530" stroke-width="5.9"/>
<path d="M956.6 309.4A554 554 0 0 0 942.6 300.7L958.2 274.3" stroke="#E9D530" stroke-width="6.5"/>
<path d="M956.6 309.4A554 554 0 0 1 970.5 318.4L1005 267.2" stroke="#E9D530" stroke-width="5.8"/>
<path d="M959.7 348.3A523.3 523.3 0 0 0 940.2 335.4L956.6 309.4" stroke="#E9D530" stroke-width="6.5"/>
<path d="M1016 313.2A584.8 584.8 0 0 0 1006.7 306.2L1025 281.3" stroke="#E9D530" stroke-width="5.7"/>
<path d="M1016 313.2A584.8 584.8 0 0 1 1025.1 320.3L1044.4 296.1" stroke="#E9D530" stroke-width="5.7"/>
<path d="M959.7 348.3A523.3 523.3 0 0 1 978.6 362.1L1016 313.2" stroke="#E9D530" stroke-width="6.2"/>
<path d="M974.2 397.9A492.5 492.5 0 0 0 942.1 373.6L959.7 348.3" stroke="#E9D530" stroke-width="4.9"/>
<path d="M1051.7 342.9A584.8 584.8 0 0 0 1043 335.2L1063.2 311.7" stroke="#E9D530" stroke-width="4.6"/>
<path d="M1051.7 342.9A584.8 584.8 0 0 1 1060.3 350.7L1081.4 328.1" stroke="#E9D530" stroke-width="4.6"/>
<path d="M1047.2 380.8A554 554 0 0 0 1031.1 365.7L1051.7 342.9" stroke="#E9D530" stroke-width="4.6"/>
<path d="M1085 375.3A584.8 584.8 0 0 0 1076.9 366.9L1099 345.1" stroke="#E9D530" stroke-width="4.6"/>
<path d="M1085 375.3A584.8 584.8 0 0 1 1092.9 383.8L1115.8 362.9" stroke="#E9D530" stroke-width="4.6"/>
<path d="M1047.2 380.8A554 554 0 0 1 1062.6 396.4L1085 375.3" stroke="#E9D530" stroke-width="4.6"/>
<path d="M974.2 397.9A492.5 492.5 0 0 1 1004.2 424.9L1047.2 380.8" stroke="#E9D530" stroke-width="6"/>
<path d="M985.6 449.7A461.7 461.7 0 0 0 954.6 421.7L974.2 397.9" stroke="#E9D530" stroke-width="6.5"/>
<path d="M985.6 449.7A461.7 461.7 0 0 1 1014 480.5L1131.9 381.3" stroke="#E9D530" stroke-width="6.8"/>
<path d="M677.2 751.8A30.8 30.8 0 0 1 682.3 755.8" stroke="#E9D530" stroke-width="5.2"/>
<path d="M684.16 757.67L987.97 452.06L983.28 447.42L680.47 754.01Z" fill="#E9D530" stroke="none"/>
<circle cx="682.3" cy="755.8" r="2.6" fill="#E9D530" stroke="none"/>
<circle cx="985.6" cy="449.7" r="3.3" fill="#E9D530" stroke="none"/>
<path d="M1129.8 428.6A584.8 584.8 0 0 0 1122.8 419.3L1147.3 400.3" stroke="#FFE729" stroke-width="5.9"/>
<path d="M1129.8 428.6A584.8 584.8 0 0 1 1136.6 437.9L1161.9 419.9" stroke="#FFE729" stroke-width="5.9"/>
<path d="M1114.8 460.3A554 554 0 0 0 1105.1 446.9L1129.8 428.6" stroke="#FFE729" stroke-width="6"/>
<path d="M1114.8 460.3A554 554 0 0 1 1124 474L1175.7 440.1" stroke="#FFE729" stroke-width="6.1"/>
<path d="M1099.7 493A523.3 523.3 0 0 0 1089.5 477.9L1114.8 460.3" stroke="#FFE729" stroke-width="6.2"/>
<path d="M1099.7 493A523.3 523.3 0 0 1 1109.3 508.5L1188.7 460.8" stroke="#FFE729" stroke-width="6"/>
<path d="M1086 529.6A492.5 492.5 0 0 0 1073.9 509.8L1099.7 493" stroke="#FFE729" stroke-width="6"/>
<path d="M1179.1 507.2A584.8 584.8 0 0 0 1173.7 496.9L1200.8 482.1" stroke="#FFE729" stroke-width="5.9"/>
<path d="M1179.1 507.2A584.8 584.8 0 0 1 1184.4 517.5L1212.2 503.7" stroke="#FFE729" stroke-width="5.9"/>
<path d="M1086 529.6A492.5 492.5 0 0 1 1097.3 549.9L1179.1 507.2" stroke="#FFE729" stroke-width="6"/>
<path d="M1079.8 584.2A461.7 461.7 0 0 0 1059.5 545.1L1086 529.6" stroke="#FFE729" stroke-width="6"/>
<path d="M1199 549.2A584.8 584.8 0 0 0 1194.3 538.5L1222.6 525.9" stroke="#FFE729" stroke-width="5.9"/>
<path d="M1199 549.2A584.8 584.8 0 0 1 1203.4 559.9L1232.2 548.4" stroke="#FFE729" stroke-width="5.9"/>
<path d="M1176.9 576.5A554 554 0 0 0 1170.6 561.2L1199 549.2" stroke="#FFE729" stroke-width="5.7"/>
<path d="M1176.9 576.5A554 554 0 0 1 1182.6 591.9L1240.8 571.2" stroke="#FFE729" stroke-width="5.9"/>
<path d="M1154.5 604.7A523.3 523.3 0 0 0 1148.2 587.7L1176.9 576.5" stroke="#FFE729" stroke-width="5.9"/>
<path d="M1154.5 604.7A523.3 523.3 0 0 1 1160.2 622L1248.5 594.4" stroke="#FFE729" stroke-width="5.9"/>
<path d="M1079.8 584.2A461.7 461.7 0 0 1 1096.4 625.1L1154.5 604.7" stroke="#FFE729" stroke-width="5.6"/>
<path d="M1071.6 648.2A430.9 430.9 0 0 0 1051.9 597.1L1079.8 584.2" stroke="#FFE729" stroke-width="6"/>
<path d="M1228.3 637.2A584.8 584.8 0 0 0 1225.4 626L1255.4 617.9" stroke="#FFE729" stroke-width="4.9"/>
<path d="M1228.3 637.2A584.8 584.8 0 0 1 1231 648.5L1261.2 641.7" stroke="#FFE729" stroke-width="4.9"/>
<path d="M1202.2 660.7A554 554 0 0 0 1198.5 644.6L1228.3 637.2" stroke="#FFE729" stroke-width="4.9"/>
<path d="M1202.2 660.7A554 554 0 0 1 1205.4 676.9L1266.2 665.6" stroke="#FFE729" stroke-width="4.9"/>
<path d="M1175.6 685A523.3 523.3 0 0 0 1172.1 667.2L1202.2 660.7" stroke="#FFE729" stroke-width="5"/>
<path d="M1175.6 685A523.3 523.3 0 0 1 1178.5 703L1270.1 689.7" stroke="#FFE729" stroke-width="6"/>
<path d="M1071.6 648.2A430.9 430.9 0 0 1 1084.8 701.4L1175.6 685" stroke="#FFE729" stroke-width="5.8"/>
<path d="M661.25 779.61L1072.61 651.23L1070.68 645.13L660.05 775.79Z" fill="#FFE729" stroke="none"/>
<circle cx="660.6" cy="777.7" r="2" fill="#FFE729" stroke="none"/>
<circle cx="1071.6" cy="648.2" r="3.2" fill="#FFE729" stroke="none"/>
<path d="M1243.4 728.8A584.8 584.8 0 0 0 1242.3 717.2L1273.1 714" stroke="#FFAF13" stroke-width="6.1"/>
<path d="M1243.4 728.8A584.8 584.8 0 0 1 1244.3 740.4L1275.2 738.4" stroke="#FFAF13" stroke-width="6.1"/>
<path d="M660.89 780.59L1243.71 732.17L1243.14 725.4L660.41 774.81Z" fill="#FFAF13" stroke="none"/>
<circle cx="660.6" cy="777.7" r="2.9" fill="#FFAF13" stroke="none"/>
<circle cx="1243.4" cy="728.8" r="3.4" fill="#FFAF13" stroke="none"/>
</g>
<g>
<circle cx="1176.9" cy="576.5" r="8" fill="#FFE729"/>
<circle cx="1154.5" cy="604.7" r="8" fill="#FFE729"/>
<circle cx="1179.1" cy="507.2" r="8" fill="#FFE729"/>
<circle cx="1129.8" cy="428.6" r="8" fill="#FFE729"/>
<circle cx="1099.7" cy="493" r="8" fill="#FFE729"/>
<circle cx="1086" cy="529.6" r="8" fill="#FFE729"/>
<circle cx="1047.2" cy="380.8" r="8" fill="#E9D530"/>
<circle cx="1016" cy="313.2" r="8" fill="#E9D530"/>
<circle cx="956.6" cy="309.4" r="8" fill="#E9D530"/>
<circle cx="974.2" cy="397.9" r="8" fill="#E9D530"/>
<circle cx="985.6" cy="449.7" r="8" fill="#E9D530"/>
<circle cx="874.8" cy="233.5" r="8" fill="#C28B2B"/>
<circle cx="816.7" cy="246.1" r="8" fill="#C28B2B"/>
<circle cx="694.1" cy="193.8" r="8" fill="#C28B2B"/>
<circle cx="670.4" cy="223.7" r="8" fill="#C28B2B"/>
<circle cx="601.3" cy="195.9" r="8" fill="#C28B2B"/>
<circle cx="555.3" cy="202.4" r="8" fill="#C28B2B"/>
<circle cx="628.3" cy="255.4" r="8" fill="#C28B2B"/>
<circle cx="380.9" cy="264.1" r="8" fill="#BEBEBE"/>
<circle cx="321.8" cy="301" r="8" fill="#BEBEBE"/>
<circle cx="556.8" cy="423.2" r="8" fill="#BEBEBE"/>
<circle cx="285.1" cy="329.4" r="8" fill="#48A366"/>
<circle cx="140.9" cy="509.6" r="8" fill="#5B9D5B"/>
<circle cx="112.7" cy="573.3" r="8" fill="#5B9D5B"/>
<circle cx="92.3" cy="639.9" r="8" fill="#48A366"/>
<circle cx="83.2" cy="685.4" r="8" fill="#48A366"/>
<circle cx="77.7" cy="731.5" r="8" fill="#48A366"/>
<circle cx="110.5" cy="712.1" r="8" fill="#48A366"/>
<circle cx="145.7" cy="684.9" r="8" fill="#48A366"/>
<circle cx="77.7" cy="824.3" r="8" fill="#48A366"/>
<circle cx="92.4" cy="916" r="8" fill="#48A366"/>
<circle cx="204.3" cy="1143.4" r="8" fill="#48A366"/>
<circle cx="251" cy="1195.1" r="8" fill="#5B9D5B"/>
<circle cx="261" cy="1161.4" r="8" fill="#5B9D5B"/>
<circle cx="408.6" cy="551.7" r="8" fill="#BEBEBE"/>
<circle cx="341.4" cy="1267.7" r="8" fill="#BEBEBE"/>
<circle cx="422.9" cy="1312" r="8" fill="#E41A1C"/>
<circle cx="481.5" cy="1302" r="8" fill="#E41A1C"/>
<circle cx="578.7" cy="1356.8" r="8" fill="#E41A1C"/>
<circle cx="763.7" cy="1353.4" r="8" fill="#E41A1C"/>
<circle cx="831.4" cy="1337" r="8" fill="#E41A1C"/>
<circle cx="806.6" cy="1312.2" r="8" fill="#E41A1C"/>
<circle cx="875.3" cy="1321.7" r="8" fill="#BEBEBE"/>
<circle cx="917.8" cy="1303" r="8" fill="#CB6651"/>
<circle cx="958.6" cy="1280.9" r="8" fill="#F781BF"/>
<circle cx="947.1" cy="1215.6" r="8" fill="#F781BF"/>
<circle cx="1035.5" cy="1185.7" r="8" fill="#BEBEBE"/>
<circle cx="1100.9" cy="1162.6" r="8" fill="#4D72A5"/>
<circle cx="1143.6" cy="1107.6" r="8" fill="#4D72A5"/>
<circle cx="1168.2" cy="1068.2" r="8" fill="#4D72A5"/>
<circle cx="1130.2" cy="1071.8" r="8" fill="#4D72A5"/>
<circle cx="1199.1" cy="1005.8" r="8" fill="#4D72A5"/>
<circle cx="1164.1" cy="1008.9" r="8" fill="#4D72A5"/>
<circle cx="1244.9" cy="803" r="8" fill="#4D72A5"/>
<circle cx="1213.2" cy="818.1" r="8" fill="#4D72A5"/>
<circle cx="1012.2" cy="968.8" r="8" fill="#4D72A5"/>
<circle cx="951.8" cy="1005" r="8" fill="#BEBEBE"/>
<circle cx="790.4" cy="1022.4" r="8" fill="#BEBEBE"/>
<circle cx="652.6" cy="1023.8" r="8" fill="#BEBEBE"/>
<circle cx="675.3" cy="686.5" r="8" fill="#BEBEBE"/>
<circle cx="682.1" cy="720" r="8" fill="#BEBEBE"/>
</g>
<g>
<circle cx="1275.2" cy="738.4" r="7" fill="#FFAF13"/>
<circle cx="1273.1" cy="714" r="7" fill="#FFAF13"/>
<circle cx="1270.1" cy="689.7" r="7" fill="#FFE729"/>
<circle cx="1266.2" cy="665.6" r="7" fill="#FFE729"/>
<circle cx="1261.2" cy="641.7" r="7" fill="#FFE729"/>
<circle cx="1255.4" cy="617.9" r="7" fill="#FFE729"/>
<circle cx="1248.5" cy="594.4" r="7" fill="#FFE729"/>
<circle cx="1240.8" cy="571.2" r="7" fill="#FFE729"/>
<circle cx="1232.2" cy="548.4" r="7" fill="#FFE729"/>
<circle cx="1222.6" cy="525.9" r="7" fill="#FFE729"/>
<circle cx="1212.2" cy="503.7" r="7" fill="#FFE729"/>
<circle cx="1200.8" cy="482.1" r="7" fill="#FFE729"/>
<circle cx="1188.7" cy="460.8" r="7" fill="#FFE729"/>
<circle cx="1175.7" cy="440.1" r="7" fill="#FFE729"/>
<circle cx="1161.9" cy="419.9" r="7" fill="#FFE729"/>
<circle cx="1147.3" cy="400.3" r="7" fill="#FFE729"/>
<circle cx="1131.9" cy="381.3" r="7" fill="#E9D530"/>
<circle cx="1115.8" cy="362.9" r="7" fill="#E9D530"/>
<circle cx="1099" cy="345.1" r="7" fill="#E9D530"/>
<circle cx="1081.4" cy="328.1" r="7" fill="#E9D530"/>
<circle cx="1063.2" cy="311.7" r="7" fill="#E9D530"/>
<circle cx="1044.4" cy="296.1" r="7" fill="#E9D530"/>
<circle cx="1025" cy="281.3" r="7" fill="#E9D530"/>
<circle cx="1005" cy="267.2" r="7" fill="#E9D530"/>
<circle cx="984.5" cy="253.9" r="7" fill="#E9D530"/>
<circle cx="963.4" cy="241.5" r="7" fill="#E9D530"/>
<circle cx="941.9" cy="229.9" r="7" fill="#C28B2B"/>
<circle cx="919.9" cy="219.1" r="7" fill="#C28B2B"/>
<circle cx="897.5" cy="209.3" r="7" fill="#C28B2B"/>
<circle cx="874.8" cy="200.3" r="7" fill="#C28B2B"/>
<circle cx="851.7" cy="192.3" r="7" fill="#C28B2B"/>
<circle cx="828.3" cy="185.2" r="7" fill="#C28B2B"/>
<circle cx="804.6" cy="179" r="7" fill="#C28B2B"/>
<circle cx="780.7" cy="173.7" r="7" fill="#C28B2B"/>
<circle cx="756.6" cy="169.4" r="7" fill="#C28B2B"/>
<circle cx="732.4" cy="166.1" r="7" fill="#C28B2B"/>
<circle cx="708.1" cy="163.7" r="7" fill="#C28B2B"/>
<circle cx="683.7" cy="162.3" r="7" fill="#C28B2B"/>
<circle cx="659.2" cy="161.9" r="7" fill="#C28B2B"/>
<circle cx="634.8" cy="162.4" r="7" fill="#C28B2B"/>
<circle cx="610.3" cy="164" r="7" fill="#C28B2B"/>
<circle cx="586" cy="166.4" r="7" fill="#C28B2B"/>
<circle cx="561.8" cy="169.9" r="7" fill="#C28B2B"/>
<circle cx="537.7" cy="174.3" r="7" fill="#C28B2B"/>
<rect x="506.9" y="172.6" width="14" height="14" fill="#7C7282"/>
<rect x="483.3" y="178.9" width="14" height="14" fill="#7C7282"/>
<rect x="459.9" y="186.2" width="14" height="14" fill="#7C7282"/>
<rect x="436.8" y="194.3" width="14" height="14" fill="#9E5199"/>
<rect x="414.1" y="203.4" width="14" height="14" fill="#9E5199"/>
<rect x="391.8" y="213.4" width="14" height="14" fill="#7C7282"/>
<rect x="369.9" y="224.2" width="14" height="14" fill="#7C7282"/>
<rect x="348.4" y="235.9" width="14" height="14" fill="#9E5199"/>
<rect x="327.4" y="248.4" width="14" height="14" fill="#7C7282"/>
<rect x="306.9" y="261.8" width="14" height="14" fill="#7C7282"/>
<rect x="287" y="276" width="14" height="14" fill="#9E5199"/>
<rect x="267.6" y="290.9" width="14" height="14" fill="#48A366"/>
<rect x="248.9" y="306.6" width="14" height="14" fill="#48A366"/>
<rect x="230.8" y="323.1" width="14" height="14" fill="#48A366"/>
<rect x="213.3" y="340.2" width="14" height="14" fill="#48A366"/>
<rect x="196.6" y="358" width="14" height="14" fill="#48A366"/>
<rect x="180.6" y="376.5" width="14" height="14" fill="#5B9D5B"/>
<rect x="165.3" y="395.6" width="14" height="14" fill="#48A366"/>
<rect x="150.8" y="415.3" width="14" height="14" fill="#5B9D5B"/>
<rect x="137" y="435.5" width="14" height="14" fill="#5B9D5B"/>
<rect x="124.1" y="456.3" width="14" height="14" fill="#48A366"/>
<rect x="112.1" y="477.6" width="14" height="14" fill="#5B9D5B"/>
<rect x="100.9" y="499.3" width="14" height="14" fill="#5B9D5B"/>
<rect x="90.5" y="521.5" width="14" height="14" fill="#48A366"/>
<rect x="81.1" y="544" width="14" height="14" fill="#5B9D5B"/>
<rect x="72.5" y="567" width="14" height="14" fill="#5B9D5B"/>
<rect x="64.9" y="590.2" width="14" height="14" fill="#48A366"/>
<rect x="58.2" y="613.7" width="14" height="14" fill="#48A366"/>
<rect x="52.4" y="637.5" width="14" height="14" fill="#48A366"/>
<rect x="47.6" y="661.5" width="14" height="14" fill="#48A366"/>
<rect x="43.8" y="685.6" width="14" height="14" fill="#48A366"/>
<rect x="40.9" y="709.9" width="14" height="14" fill="#48A366"/>
<rect x="38.9" y="734.3" width="14" height="14" fill="#48A366"/>
<rect x="38" y="758.7" width="14" height="14" fill="#48A366"/>
<rect x="38" y="783.2" width="14" height="14" fill="#48A366"/>
<rect x="39" y="807.6" width="14" height="14" fill="#48A366"/>
<rect x="40.9" y="832" width="14" height="14" fill="#48A366"/>
<rect x="43.8" y="856.3" width="14" height="14" fill="#48A366"/>
<rect x="47.7" y="880.4" width="14" height="14" fill="#48A366"/>
<rect x="52.5" y="904.4" width="14" height="14" fill="#48A366"/>
<rect x="58.3" y="928.1" width="14" height="14" fill="#48A366"/>
<rect x="65" y="951.7" width="14" height="14" fill="#48A366"/>
<rect x="72.7" y="974.9" width="14" height="14" fill="#48A366"/>
<rect x="81.3" y="997.8" width="14" height="14" fill="#48A366"/>
<rect x="90.7" y="1020.3" width="14" height="14" fill="#48A366"/>
<rect x="101.1" y="1042.5" width="14" height="14" fill="#48A366"/>
<rect x="112.3" y="1064.2" width="14" height="14" fill="#48A366"/>
<rect x="124.4" y="1085.5" width="14" height="14" fill="#48A366"/>
<rect x="137.3" y="1106.3" width="14" height="14" fill="#48A366"/>
<rect x="151" y="1126.5" width="14" height="14" fill="#48A366"/>
<rect x="165.6" y="1146.2" width="14" height="14" fill="#48A366"/>
<rect x="180.9" y="1165.3" width="14" height="14" fill="#48A366"/>
<rect x="196.9" y="1183.7" width="14" height="14" fill="#5B9D5B"/>
<rect x="213.7" y="1201.5" width="14" height="14" fill="#5B9D5B"/>
<rect x="231.1" y="1218.7" width="14" height="14" fill="#5B9D5B"/>
<path d="M256.2 1231.4L265.5 1247.5L246.9 1247.5Z" fill="#B05B3B"/>
<path d="M275 1247.1L284.3 1263.2L265.7 1263.2Z" fill="#B05B3B"/>
<rect x="287.4" y="1265.7" width="14" height="14" fill="#E41A1C"/>
<rect x="307.3" y="1279.9" width="14" height="14" fill="#984660"/>
<rect x="327.8" y="1293.2" width="14" height="14" fill="#E41A1C"/>
<rect x="348.8" y="1305.7" width="14" height="14" fill="#E41A1C"/>
<rect x="370.3" y="1317.4" width="14" height="14" fill="#E41A1C"/>
<rect x="392.2" y="1328.2" width="14" height="14" fill="#E41A1C"/>
<rect x="414.6" y="1338.2" width="14" height="14" fill="#E41A1C"/>
<rect x="437.3" y="1347.2" width="14" height="14" fill="#E41A1C"/>
<rect x="460.3" y="1355.4" width="14" height="14" fill="#E41A1C"/>
<rect x="483.7" y="1362.6" width="14" height="14" fill="#E41A1C"/>
<rect x="507.3" y="1368.9" width="14" height="14" fill="#E41A1C"/>
<rect x="531.2" y="1374.2" width="14" height="14" fill="#E41A1C"/>
<rect x="555.3" y="1378.6" width="14" height="14" fill="#E41A1C"/>
<rect x="579.5" y="1382" width="14" height="14" fill="#E41A1C"/>
<rect x="603.8" y="1384.5" width="14" height="14" fill="#E41A1C"/>
<rect x="628.2" y="1386" width="14" height="14" fill="#E41A1C"/>
<rect x="652.7" y="1386.5" width="14" height="14" fill="#E41A1C"/>
<rect x="677.1" y="1386.1" width="14" height="14" fill="#E41A1C"/>
<rect x="701.6" y="1384.6" width="14" height="14" fill="#E41A1C"/>
<rect x="725.9" y="1382.2" width="14" height="14" fill="#E41A1C"/>
<rect x="750.1" y="1378.9" width="14" height="14" fill="#E41A1C"/>
<rect x="774.2" y="1374.6" width="14" height="14" fill="#E41A1C"/>
<rect x="798.1" y="1369.3" width="14" height="14" fill="#E41A1C"/>
<rect x="821.7" y="1363.1" width="14" height="14" fill="#E41A1C"/>
<rect x="845.1" y="1356" width="14" height="14" fill="#E41A1C"/>
<path d="M875.2 1344.2L884.5 1360.3L865.9 1360.3Z" fill="#F97C0A"/>
<path d="M898 1335.2L907.3 1351.3L888.7 1351.3Z" fill="#D46E7D"/>
<path d="M920.3 1325.4L929.6 1341.5L911 1341.5Z" fill="#CB6651"/>
<path d="M942.3 1314.6L951.6 1330.7L933 1330.7Z" fill="#CB6651"/>
<path d="M963.8 1303L973.1 1319.1L954.5 1319.1Z" fill="#F781BF"/>
<path d="M984.9 1290.5L994.2 1306.6L975.6 1306.6Z" fill="#F781BF"/>
<path d="M1005.4 1277.3L1014.7 1293.4L996.1 1293.4Z" fill="#F781BF"/>
<path d="M1025.4 1263.2L1034.7 1279.3L1016.1 1279.3Z" fill="#F781BF"/>
<path d="M1044.8 1248.3L1054.1 1264.4L1035.5 1264.4Z" fill="#F781BF"/>
<rect x="1056.6" y="1236.4" width="14" height="14" fill="#4D72A5"/>
<rect x="1074.8" y="1220" width="14" height="14" fill="#4D72A5"/>
<rect x="1092.3" y="1202.9" width="14" height="14" fill="#3E8D96"/>
<rect x="1109.1" y="1185.2" width="14" height="14" fill="#4D72A5"/>
<rect x="1125.2" y="1166.7" width="14" height="14" fill="#4D72A5"/>
<rect x="1140.6" y="1147.7" width="14" height="14" fill="#4D72A5"/>
<rect x="1155.1" y="1128.1" width="14" height="14" fill="#4D72A5"/>
<rect x="1168.9" y="1107.9" width="14" height="14" fill="#4D72A5"/>
<rect x="1181.9" y="1087.2" width="14" height="14" fill="#4D72A5"/>
<rect x="1194.1" y="1065.9" width="14" height="14" fill="#4D72A5"/>
<rect x="1205.4" y="1044.2" width="14" height="14" fill="#4D72A5"/>
<rect x="1215.8" y="1022.1" width="14" height="14" fill="#4D72A5"/>
<rect x="1225.3" y="999.6" width="14" height="14" fill="#4D72A5"/>
<rect x="1234" y="976.7" width="14" height="14" fill="#4D72A5"/>
<rect x="1241.7" y="953.5" width="14" height="14" fill="#4D72A5"/>
<rect x="1248.5" y="930" width="14" height="14" fill="#4D72A5"/>
<rect x="1254.3" y="906.3" width="14" height="14" fill="#4D72A5"/>
<rect x="1259.3" y="882.3" width="14" height="14" fill="#4D72A5"/>
<rect x="1263.2" y="858.2" width="14" height="14" fill="#4D72A5"/>
<rect x="1266.2" y="833.9" width="14" height="14" fill="#4D72A5"/>
<rect x="1268.2" y="809.5" width="14" height="14" fill="#4D72A5"/>
<rect x="1269.3" y="785.1" width="14" height="14" fill="#4D72A5"/>
</g>
<g font-family="'Liberation Sans', Arial, Helvetica, sans-serif" font-size="27.6">
<text transform="translate(1293.2 737.2) rotate(-3.7)" dy="0.355em" fill="#FFAF13">L0a1a2</text>
<text transform="translate(1291.1 712.2) rotate(-5.9)" dy="0.355em" fill="#FFAF13">L0a1b1a</text>
<text transform="translate(1288 687.2) rotate(-8.2)" dy="0.355em" fill="#FFE729">L1b1a</text>
<text transform="translate(1283.9 662.3) rotate(-10.5)" dy="0.355em" fill="#FFE729">L1b1a10</text>
<text transform="translate(1278.8 637.7) rotate(-12.8)" dy="0.355em" fill="#FFE729">L1b1a15</text>
<text transform="translate(1272.7 613.3) rotate(-15)" dy="0.355em" fill="#FFE729">L1b1a18</text>
<text transform="translate(1265.7 589.1) rotate(-17.3)" dy="0.355em" fill="#FFE729">L1c5</text>
<text transform="translate(1257.8 565.2) rotate(-19.6)" dy="0.355em" fill="#FFE729">L1c3a1b</text>
<text transform="translate(1248.9 541.7) rotate(-21.9)" dy="0.355em" fill="#FFE729">L1c3b2</text>
<text transform="translate(1239 518.5) rotate(-24.1)" dy="0.355em" fill="#FFE729">L1c3b1a</text>
<text transform="translate(1228.3 495.7) rotate(-26.4)" dy="0.355em" fill="#FFE729">L1c1a2b</text>
<text transform="translate(1216.6 473.4) rotate(-28.7)" dy="0.355em" fill="#FFE729">L1c1b</text>
<text transform="translate(1204.1 451.6) rotate(-31)" dy="0.355em" fill="#FFE729">L1c4b</text>
<text transform="translate(1190.7 430.3) rotate(-33.2)" dy="0.355em" fill="#FFE729">L1c2b1a1</text>
<text transform="translate(1176.5 409.5) rotate(-35.5)" dy="0.355em" fill="#FFE729">L1c2b1a'b</text>
<text transform="translate(1161.5 389.3) rotate(-37.8)" dy="0.355em" fill="#FFE729">L1c2b1c</text>
<text transform="translate(1145.7 369.7) rotate(-40.1)" dy="0.355em" fill="#E9D530">L2b1a2</text>
<text transform="translate(1129.1 350.8) rotate(-42.3)" dy="0.355em" fill="#E9D530">L2a1a</text>
<text transform="translate(1111.8 332.5) rotate(-44.6)" dy="0.355em" fill="#E9D530">L2a1a3</text>
<text transform="translate(1093.7 314.9) rotate(-46.9)" dy="0.355em" fill="#E9D530">L2a1a2c</text>
<text transform="translate(1075 298.1) rotate(-49.2)" dy="0.355em" fill="#E9D530">L2a1a2b</text>
<text transform="translate(1055.6 282) rotate(-51.4)" dy="0.355em" fill="#E9D530">L2a1i</text>
<text transform="translate(1035.7 266.7) rotate(-53.7)" dy="0.355em" fill="#E9D530">L2a1l1a</text>
<text transform="translate(1015.1 252.3) rotate(-56)" dy="0.355em" fill="#E9D530">L2a1f</text>
<text transform="translate(993.9 238.6) rotate(-58.3)" dy="0.355em" fill="#E9D530">L2a1f</text>
<text transform="translate(972.3 225.8) rotate(-60.6)" dy="0.355em" fill="#E9D530">L2a1f</text>
<text transform="translate(950.1 213.9) rotate(-62.8)" dy="0.355em" fill="#C28B2B">L3e4a</text>
<text transform="translate(927.5 202.8) rotate(-65.1)" dy="0.355em" fill="#C28B2B">L3</text>
<text transform="translate(904.4 192.7) rotate(-67.4)" dy="0.355em" fill="#C28B2B">L3h1b1a</text>
<text transform="translate(881 183.4) rotate(-69.7)" dy="0.355em" fill="#C28B2B">L3h1b2</text>
<text transform="translate(857.2 175.2) rotate(-71.9)" dy="0.355em" fill="#C28B2B">L3d3a1a</text>
<text transform="translate(833.2 167.8) rotate(-74.2)" dy="0.355em" fill="#C28B2B">L3d1'2'3'4'5'6</text>
<text transform="translate(808.8 161.5) rotate(-76.5)" dy="0.355em" fill="#C28B2B">L3d1'2'3'4'5'6</text>
<text transform="translate(784.2 156.1) rotate(-78.8)" dy="0.355em" fill="#C28B2B">L3f1b4a</text>
<text transform="translate(759.5 151.6) rotate(-81)" dy="0.355em" fill="#C28B2B">L3f1b1a</text>
<text transform="translate(734.5 148.2) rotate(-83.3)" dy="0.355em" fill="#C28B2B">L3k1</text>
<text transform="translate(709.5 145.8) rotate(-85.6)" dy="0.355em" fill="#C28B2B">L3e2b3</text>
<text transform="translate(684.3 144.3) rotate(-87.9)" dy="0.355em" fill="#C28B2B">L3e2b1a2</text>
<text transform="translate(659.2 143.9) rotate(-90.1)" dy="0.355em" fill="#C28B2B">L3e3b2</text>
<text transform="translate(634 144.5) rotate(87.6)" text-anchor="end" dy="0.355em" fill="#C28B2B">L3e3b</text>
<text transform="translate(608.9 146) rotate(85.3)" text-anchor="end" dy="0.355em" fill="#C28B2B">L3e1b2</text>
<text transform="translate(583.8 148.6) rotate(83)" text-anchor="end" dy="0.355em" fill="#C28B2B">L3e1a1a</text>
<text transform="translate(558.9 152.1) rotate(80.8)" text-anchor="end" dy="0.355em" fill="#C28B2B">L3e1d1</text>
<text transform="translate(534.2 156.7) rotate(78.5)" text-anchor="end" dy="0.355em" fill="#C28B2B">L3e1d1</text>
<text transform="translate(509.6 162.2) rotate(76.2)" text-anchor="end" dy="0.355em" fill="#7C7282">D1</text>
<text transform="translate(485.3 168.6) rotate(73.9)" text-anchor="end" dy="0.355em" fill="#7C7282">D1</text>
<text transform="translate(461.2 176.1) rotate(71.7)" text-anchor="end" dy="0.355em" fill="#7C7282">D1</text>
<text transform="translate(437.5 184.5) rotate(69.4)" text-anchor="end" dy="0.355em" fill="#9E5199">D4</text>
<text transform="translate(414.1 193.8) rotate(67.1)" text-anchor="end" dy="0.355em" fill="#9E5199">D4p</text>
<text transform="translate(391.1 204.1) rotate(64.8)" text-anchor="end" dy="0.355em" fill="#7C7282">D1f</text>
<text transform="translate(368.6 215.2) rotate(62.6)" text-anchor="end" dy="0.355em" fill="#7C7282">D1</text>
<text transform="translate(346.5 227.3) rotate(60.3)" text-anchor="end" dy="0.355em" fill="#9E5199">D4</text>
<text transform="translate(324.8 240.2) rotate(58)" text-anchor="end" dy="0.355em" fill="#7C7282">D1</text>
<text transform="translate(303.8 253.9) rotate(55.7)" text-anchor="end" dy="0.355em" fill="#7C7282">D1</text>
<text transform="translate(283.3 268.5) rotate(53.5)" text-anchor="end" dy="0.355em" fill="#9E5199">D4+195</text>
<text transform="translate(263.3 283.9) rotate(51.2)" text-anchor="end" dy="0.355em" fill="#48A366">C</text>
<text transform="translate(244 300.1) rotate(48.9)" text-anchor="end" dy="0.355em" fill="#48A366">C</text>
<text transform="translate(225.4 317) rotate(46.6)" text-anchor="end" dy="0.355em" fill="#48A366">C</text>
<text transform="translate(207.5 334.6) rotate(44.4)" text-anchor="end" dy="0.355em" fill="#48A366">C</text>
<text transform="translate(190.2 353) rotate(42.1)" text-anchor="end" dy="0.355em" fill="#48A366">C</text>
<text transform="translate(173.7 372) rotate(39.8)" text-anchor="end" dy="0.355em" fill="#5B9D5B">C1c</text>
<text transform="translate(158 391.6) rotate(37.5)" text-anchor="end" dy="0.355em" fill="#48A366">C</text>
<text transform="translate(143.1 411.9) rotate(35.3)" text-anchor="end" dy="0.355em" fill="#5B9D5B">C1c4</text>
<text transform="translate(128.9 432.7) rotate(33)" text-anchor="end" dy="0.355em" fill="#5B9D5B">C1c</text>
<text transform="translate(115.7 454.1) rotate(30.7)" text-anchor="end" dy="0.355em" fill="#48A366">C</text>
<text transform="translate(103.3 476) rotate(28.4)" text-anchor="end" dy="0.355em" fill="#5B9D5B">C1d1</text>
<text transform="translate(91.7 498.4) rotate(26.1)" text-anchor="end" dy="0.355em" fill="#5B9D5B">C1d1</text>
<text transform="translate(81.1 521.2) rotate(23.9)" text-anchor="end" dy="0.355em" fill="#48A366">C</text>
<text transform="translate(71.3 544.4) rotate(21.6)" text-anchor="end" dy="0.355em" fill="#5B9D5B">C1d1</text>
<text transform="translate(62.5 568) rotate(19.3)" text-anchor="end" dy="0.355em" fill="#5B9D5B">C1d1</text>
<text transform="translate(54.7 591.9) rotate(17)" text-anchor="end" dy="0.355em" fill="#48A366">C</text>
<text transform="translate(47.8 616.1) rotate(14.8)" text-anchor="end" dy="0.355em" fill="#48A366">C</text>
<text transform="translate(41.9 640.6) rotate(12.5)" text-anchor="end" dy="0.355em" fill="#48A366">C</text>
<text transform="translate(36.9 665.3) rotate(10.2)" text-anchor="end" dy="0.355em" fill="#48A366">C</text>
<text transform="translate(32.9 690.1) rotate(7.9)" text-anchor="end" dy="0.355em" fill="#48A366">C</text>
<text transform="translate(29.9 715.1) rotate(5.7)" text-anchor="end" dy="0.355em" fill="#48A366">C</text>
<text transform="translate(28 740.2) rotate(3.4)" text-anchor="end" dy="0.355em" fill="#48A366">C</text>
<text transform="translate(27 765.4) rotate(1.1)" text-anchor="end" dy="0.355em" fill="#48A366">C</text>
<text transform="translate(27 790.5) rotate(-1.2)" text-anchor="end" dy="0.355em" fill="#48A366">C</text>
<text transform="translate(28 815.7) rotate(-3.4)" text-anchor="end" dy="0.355em" fill="#48A366">C</text>
<text transform="translate(30 840.8) rotate(-5.7)" text-anchor="end" dy="0.355em" fill="#48A366">C</text>
<text transform="translate(33 865.8) rotate(-8)" text-anchor="end" dy="0.355em" fill="#48A366">C</text>
<text transform="translate(37 890.6) rotate(-10.3)" text-anchor="end" dy="0.355em" fill="#48A366">C</text>
<text transform="translate(42 915.3) rotate(-12.5)" text-anchor="end" dy="0.355em" fill="#48A366">C</text>
<text transform="translate(47.9 939.7) rotate(-14.8)" text-anchor="end" dy="0.355em" fill="#48A366">C</text>
<text transform="translate(54.8 964) rotate(-17.1)" text-anchor="end" dy="0.355em" fill="#48A366">C</text>
<text transform="translate(62.7 987.9) rotate(-19.4)" text-anchor="end" dy="0.355em" fill="#48A366">C</text>
<text transform="translate(71.5 1011.4) rotate(-21.6)" text-anchor="end" dy="0.355em" fill="#48A366">C</text>
<text transform="translate(81.3 1034.6) rotate(-23.9)" text-anchor="end" dy="0.355em" fill="#48A366">C</text>
<text transform="translate(91.9 1057.4) rotate(-26.2)" text-anchor="end" dy="0.355em" fill="#48A366">C</text>
<text transform="translate(103.5 1079.8) rotate(-28.5)" text-anchor="end" dy="0.355em" fill="#48A366">C</text>
<text transform="translate(115.9 1101.7) rotate(-30.7)" text-anchor="end" dy="0.355em" fill="#48A366">C</text>
<text transform="translate(129.2 1123.1) rotate(-33)" text-anchor="end" dy="0.355em" fill="#48A366">C</text>
<text transform="translate(143.3 1143.9) rotate(-35.3)" text-anchor="end" dy="0.355em" fill="#48A366">C</text>
<text transform="translate(158.3 1164.1) rotate(-37.6)" text-anchor="end" dy="0.355em" fill="#48A366">C</text>
<text transform="translate(174 1183.8) rotate(-39.8)" text-anchor="end" dy="0.355em" fill="#48A366">C</text>
<text transform="translate(190.5 1202.8) rotate(-42.1)" text-anchor="end" dy="0.355em" fill="#5B9D5B">C1b2</text>
<text transform="translate(207.8 1221.1) rotate(-44.4)" text-anchor="end" dy="0.355em" fill="#5B9D5B">C1b2</text>
<text transform="translate(225.8 1238.8) rotate(-46.7)" text-anchor="end" dy="0.355em" fill="#5B9D5B">C1b2</text>
<text transform="translate(244.4 1255.7) rotate(-48.9)" text-anchor="end" dy="0.355em" fill="#B05B3B">N</text>
<text transform="translate(263.7 1271.8) rotate(-51.2)" text-anchor="end" dy="0.355em" fill="#B05B3B">N</text>
<text transform="translate(283.6 1287.2) rotate(-53.5)" text-anchor="end" dy="0.355em" fill="#E41A1C">A2+(64)+@153</text>
<text transform="translate(304.2 1301.8) rotate(-55.8)" text-anchor="end" dy="0.355em" fill="#984660">A8a</text>
<text transform="translate(325.3 1315.5) rotate(-58.1)" text-anchor="end" dy="0.355em" fill="#E41A1C">A2+(64)+@153</text>
<text transform="translate(346.9 1328.4) rotate(-60.3)" text-anchor="end" dy="0.355em" fill="#E41A1C">A2+(64)+@16111</text>
<text transform="translate(369 1340.4) rotate(-62.6)" text-anchor="end" dy="0.355em" fill="#E41A1C">A2+(64)+@16111</text>
<text transform="translate(391.6 1351.5) rotate(-64.9)" text-anchor="end" dy="0.355em" fill="#E41A1C">A2ac</text>
<text transform="translate(414.6 1361.8) rotate(-67.2)" text-anchor="end" dy="0.355em" fill="#E41A1C">A2ac</text>
<text transform="translate(438 1371.1) rotate(-69.4)" text-anchor="end" dy="0.355em" fill="#E41A1C">A2ac</text>
<text transform="translate(461.7 1379.5) rotate(-71.7)" text-anchor="end" dy="0.355em" fill="#E41A1C">A2ac</text>
<text transform="translate(485.7 1386.9) rotate(-74)" text-anchor="end" dy="0.355em" fill="#E41A1C">A2ac</text>
<text transform="translate(510.1 1393.4) rotate(-76.3)" text-anchor="end" dy="0.355em" fill="#E41A1C">A2+(64)</text>
<text transform="translate(534.6 1398.8) rotate(-78.5)" text-anchor="end" dy="0.355em" fill="#E41A1C">A2+(64)</text>
<text transform="translate(559.4 1403.4) rotate(-80.8)" text-anchor="end" dy="0.355em" fill="#E41A1C">A2+(64)+16189</text>
<text transform="translate(584.3 1406.9) rotate(-83.1)" text-anchor="end" dy="0.355em" fill="#E41A1C">A2+(64)+@16111</text>
<text transform="translate(609.4 1409.4) rotate(-85.4)" text-anchor="end" dy="0.355em" fill="#E41A1C">A2an</text>
<text transform="translate(634.5 1411) rotate(-87.6)" text-anchor="end" dy="0.355em" fill="#E41A1C">A2</text>
<text transform="translate(659.7 1411.5) rotate(-269.9)" dy="0.355em" fill="#E41A1C">A2+(64)+@16111</text>
<text transform="translate(684.8 1411) rotate(-272.2)" dy="0.355em" fill="#E41A1C">A2+(64)+@16111</text>
<text transform="translate(710 1409.6) rotate(-274.5)" dy="0.355em" fill="#E41A1C">A2+(64)+@16111</text>
<text transform="translate(735 1407.1) rotate(-276.7)" dy="0.355em" fill="#E41A1C">A2+(64)+@16111</text>
<text transform="translate(759.9 1403.7) rotate(-279)" dy="0.355em" fill="#E41A1C">A2+(64)</text>
<text transform="translate(784.7 1399.2) rotate(-281.3)" dy="0.355em" fill="#E41A1C">A2+(64)</text>
<text transform="translate(809.3 1393.8) rotate(-283.6)" dy="0.355em" fill="#E41A1C">A2</text>
<text transform="translate(833.6 1387.4) rotate(-285.8)" dy="0.355em" fill="#E41A1C">A2</text>
<text transform="translate(857.7 1380.1) rotate(-288.1)" dy="0.355em" fill="#E41A1C">A2</text>
<text transform="translate(881.5 1371.8) rotate(-290.4)" dy="0.355em" fill="#F97C0A">J2b1c1</text>
<text transform="translate(904.9 1362.5) rotate(-292.7)" dy="0.355em" fill="#D46E7D">T2b3+151</text>
<text transform="translate(927.9 1352.4) rotate(-294.9)" dy="0.355em" fill="#CB6651">H</text>
<text transform="translate(950.5 1341.3) rotate(-297.2)" dy="0.355em" fill="#CB6651">H3c2</text>
<text transform="translate(972.7 1329.4) rotate(-299.5)" dy="0.355em" fill="#F781BF">U6a5</text>
<text transform="translate(994.3 1316.5) rotate(-301.8)" dy="0.355em" fill="#F781BF">U6a3b</text>
<text transform="translate(1015.5 1302.9) rotate(-304)" dy="0.355em" fill="#F781BF">U1a1a1</text>
<text transform="translate(1036 1288.4) rotate(-306.3)" dy="0.355em" fill="#F781BF">U4b1a4</text>
<text transform="translate(1056 1273.1) rotate(-308.6)" dy="0.355em" fill="#F781BF">U4b1a4</text>
<text transform="translate(1075.4 1257) rotate(-310.9)" dy="0.355em" fill="#4D72A5">B2e</text>
<text transform="translate(1094.1 1240.1) rotate(-313.1)" dy="0.355em" fill="#4D72A5">B2</text>
<text transform="translate(1112.1 1222.5) rotate(-315.4)" dy="0.355em" fill="#3E8D96">B4a1a1b</text>
<text transform="translate(1129.4 1204.3) rotate(-317.7)" dy="0.355em" fill="#4D72A5">B2h</text>
<text transform="translate(1146 1185.3) rotate(-320)" dy="0.355em" fill="#4D72A5">B2h</text>
<text transform="translate(1161.8 1165.7) rotate(-322.2)" dy="0.355em" fill="#4D72A5">B2o</text>
<text transform="translate(1176.8 1145.5) rotate(-324.5)" dy="0.355em" fill="#4D72A5">B2</text>
<text transform="translate(1191 1124.7) rotate(-326.8)" dy="0.355em" fill="#4D72A5">B2</text>
<text transform="translate(1204.4 1103.4) rotate(-329.1)" dy="0.355em" fill="#4D72A5">B2</text>
<text transform="translate(1216.9 1081.6) rotate(-331.4)" dy="0.355em" fill="#4D72A5">B2</text>
<text transform="translate(1228.5 1059.2) rotate(-333.6)" dy="0.355em" fill="#4D72A5">B2</text>
<text transform="translate(1239.2 1036.5) rotate(-335.9)" dy="0.355em" fill="#4D72A5">B2</text>
<text transform="translate(1249 1013.3) rotate(-338.2)" dy="0.355em" fill="#4D72A5">B2</text>
<text transform="translate(1257.9 989.7) rotate(-340.5)" dy="0.355em" fill="#4D72A5">B2e</text>
<text transform="translate(1265.9 965.9) rotate(-342.7)" dy="0.355em" fill="#4D72A5">B2e</text>
<text transform="translate(1272.9 941.7) rotate(-345)" dy="0.355em" fill="#4D72A5">B2e</text>
<text transform="translate(1278.9 917.2) rotate(-347.3)" dy="0.355em" fill="#4D72A5">B2e</text>
<text transform="translate(1284 892.6) rotate(-349.6)" dy="0.355em" fill="#4D72A5">B2e</text>
<text transform="translate(1288 867.7) rotate(-351.8)" dy="0.355em" fill="#4D72A5">B2e</text>
<text transform="translate(1291.1 842.8) rotate(-354.1)" dy="0.355em" fill="#4D72A5">B2e</text>
<text transform="translate(1293.2 817.7) rotate(-356.4)" dy="0.355em" fill="#4D72A5">B2e</text>
<text transform="translate(1294.3 792.5) rotate(-358.7)" dy="0.355em" fill="#4D72A5">B2e</text>
</g><g font-family="'Liberation Sans', Arial, Helvetica, sans-serif" fill="#000">
<text x="1510.6" y="115.2" font-size="38.3">Haplogroup</text>
<path d="M1516.7 168.2H1564.5" stroke="#E41A1C" stroke-width="5.1" stroke-linecap="round" fill="none"/>
<circle cx="1540.6" cy="168.2" r="7.9" fill="#E41A1C"/>
<text x="1590" y="179.5" font-size="31.1">A2</text>
<path d="M1516.7 228.3H1564.5" stroke="#984660" stroke-width="5.1" stroke-linecap="round" fill="none"/>
<circle cx="1540.6" cy="228.3" r="7.9" fill="#984660"/>
<text x="1590" y="239.7" font-size="31.1">A8</text>
<path d="M1516.7 288.5H1564.5" stroke="#4D72A5" stroke-width="5.1" stroke-linecap="round" fill="none"/>
<circle cx="1540.6" cy="288.5" r="7.9" fill="#4D72A5"/>
<text x="1590" y="299.8" font-size="31.1">B2</text>
<path d="M1516.7 348.6H1564.5" stroke="#3E8D96" stroke-width="5.1" stroke-linecap="round" fill="none"/>
<circle cx="1540.6" cy="348.6" r="7.9" fill="#3E8D96"/>
<text x="1590" y="359.9" font-size="31.1">B4</text>
<path d="M1516.7 408.8H1564.5" stroke="#48A366" stroke-width="5.1" stroke-linecap="round" fill="none"/>
<circle cx="1540.6" cy="408.8" r="7.9" fill="#48A366"/>
<text x="1590" y="420.1" font-size="31.1">C</text>
<path d="M1516.7 468.9H1564.5" stroke="#5B9D5B" stroke-width="5.1" stroke-linecap="round" fill="none"/>
<circle cx="1540.6" cy="468.9" r="7.9" fill="#5B9D5B"/>
<text x="1590" y="480.2" font-size="31.1">C1</text>
<path d="M1516.7 529.1H1564.5" stroke="#7C7282" stroke-width="5.1" stroke-linecap="round" fill="none"/>
<circle cx="1540.6" cy="529.1" r="7.9" fill="#7C7282"/>
<text x="1590" y="540.4" font-size="31.1">D1</text>
<path d="M1516.7 589.2H1564.5" stroke="#9E5199" stroke-width="5.1" stroke-linecap="round" fill="none"/>
<circle cx="1540.6" cy="589.2" r="7.9" fill="#9E5199"/>
<text x="1590" y="600.5" font-size="31.1">D4</text>
<path d="M1516.7 649.4H1564.5" stroke="#CB6651" stroke-width="5.1" stroke-linecap="round" fill="none"/>
<circle cx="1540.6" cy="649.4" r="7.9" fill="#CB6651"/>
<text x="1590" y="660.7" font-size="31.1">H</text>
<path d="M1516.7 709.5H1564.5" stroke="#F97C0A" stroke-width="5.1" stroke-linecap="round" fill="none"/>
<circle cx="1540.6" cy="709.5" r="7.9" fill="#F97C0A"/>
<text x="1590" y="720.8" font-size="31.1">J</text>
<path d="M1516.7 769.7H1564.5" stroke="#FFAF13" stroke-width="5.1" stroke-linecap="round" fill="none"/>
<circle cx="1540.6" cy="769.7" r="7.9" fill="#FFAF13"/>
<text x="1590" y="781" font-size="31.1">L0</text>
<path d="M1516.7 829.8H1564.5" stroke="#FFE729" stroke-width="5.1" stroke-linecap="round" fill="none"/>
<circle cx="1540.6" cy="829.8" r="7.9" fill="#FFE729"/>
<text x="1590" y="841.1" font-size="31.1">L1</text>
<path d="M1516.7 890H1564.5" stroke="#E9D530" stroke-width="5.1" stroke-linecap="round" fill="none"/>
<circle cx="1540.6" cy="890" r="7.9" fill="#E9D530"/>
<text x="1590" y="901.3" font-size="31.1">L2</text>
<path d="M1516.7 950.1H1564.5" stroke="#C28B2B" stroke-width="5.1" stroke-linecap="round" fill="none"/>
<circle cx="1540.6" cy="950.1" r="7.9" fill="#C28B2B"/>
<text x="1590" y="961.4" font-size="31.1">L3</text>
<path d="M1516.7 1010.3H1564.5" stroke="#B05B3B" stroke-width="5.1" stroke-linecap="round" fill="none"/>
<circle cx="1540.6" cy="1010.3" r="7.9" fill="#B05B3B"/>
<text x="1590" y="1021.6" font-size="31.1">N</text>
<path d="M1516.7 1070.5H1564.5" stroke="#D46E7D" stroke-width="5.1" stroke-linecap="round" fill="none"/>
<circle cx="1540.6" cy="1070.5" r="7.9" fill="#D46E7D"/>
<text x="1590" y="1081.8" font-size="31.1">T</text>
<path d="M1516.7 1130.6H1564.5" stroke="#F781BF" stroke-width="5.1" stroke-linecap="round" fill="none"/>
<circle cx="1540.6" cy="1130.6" r="7.9" fill="#F781BF"/>
<text x="1590" y="1141.9" font-size="31.1">U</text>
<text x="1510.6" y="1268.6" font-size="38.3">Ancestry</text>
<circle cx="1540.6" cy="1322" r="7.1"/>
<text x="1590" y="1333" font-size="31.1">African</text>
<path d="M1540.6 1371L1550 1387.2L1531.2 1387.2Z"/>
<text x="1590" y="1393" font-size="31.1">European</text>
<rect x="1533.7" y="1435.3" width="14" height="14"/>
<text x="1590" y="1453.1" font-size="31.1">Indigenous</text>
</g></svg>
</body></html>
